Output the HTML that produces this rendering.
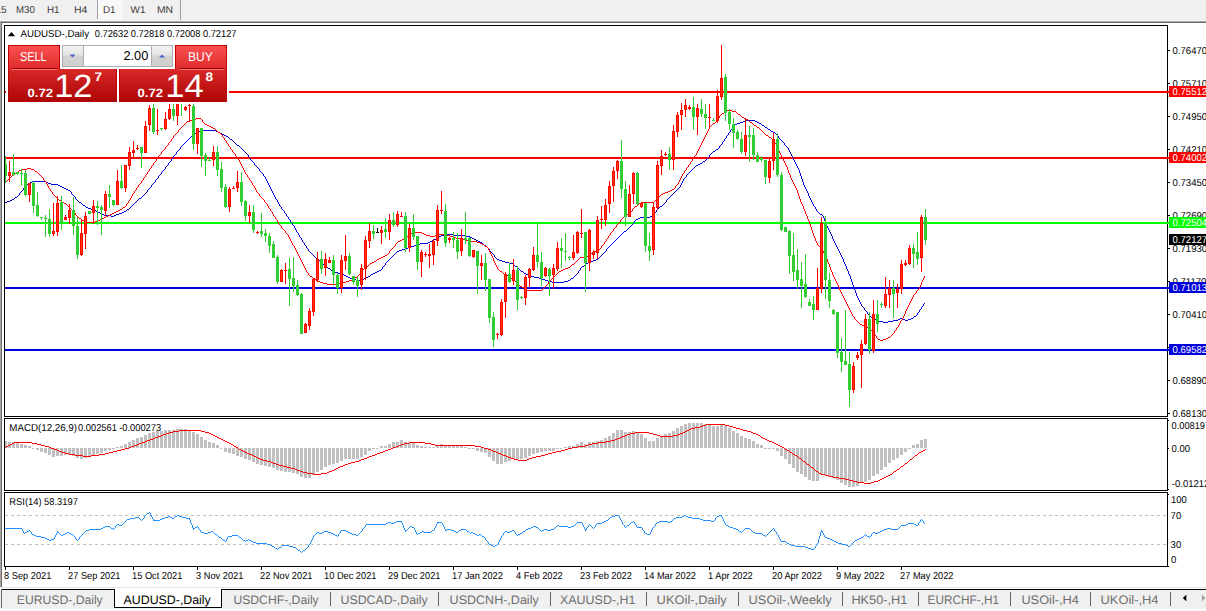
<!DOCTYPE html>
<html lang="en"><head><meta charset="utf-8"><title>AUDUSD-,Daily</title>
<style>html,body{margin:0;padding:0;background:#fff;}body{width:1206px;height:611px;overflow:hidden;}svg{display:block;font-family:'Liberation Sans', Arial, sans-serif;}text{white-space:pre;text-rendering:geometricPrecision;}</style>
</head><body>
<svg width="1206" height="611" viewBox="0 0 1206 611">
<defs>
<linearGradient id="gSellTop" x1="0" y1="0" x2="0" y2="1"><stop offset="0" stop-color="#fb5050"/><stop offset="1" stop-color="#dd2b2b"/></linearGradient>
<linearGradient id="gSellBot" x1="0" y1="0" x2="0" y2="1"><stop offset="0" stop-color="#d92828"/><stop offset="1" stop-color="#ad0606"/></linearGradient>
<linearGradient id="gBtn" x1="0" y1="0" x2="0" y2="1"><stop offset="0" stop-color="#f4f4f4"/><stop offset="0.45" stop-color="#e4e4e4"/><stop offset="0.5" stop-color="#d2d2d2"/><stop offset="1" stop-color="#cfcfcf"/></linearGradient>
<clipPath id="cpMain"><rect x="5" y="26" width="1162" height="390"/></clipPath>
</defs>
<g shape-rendering="crispEdges">
<rect x="0" y="0" width="1206" height="611" fill="#ffffff"/>
<rect x="0" y="0" width="1206" height="20" fill="#f0f0f0"/>
<rect x="0" y="20" width="1206" height="1" fill="#f7f7f7"/>
<rect x="0" y="21" width="1206" height="1" fill="#a6a6a6"/>
<rect x="0" y="22" width="1206" height="1" fill="#6b6b6b"/>
<rect x="0" y="22" width="1" height="566" fill="#a6a6a6"/>
<rect x="1" y="22" width="1" height="566" fill="#6b6b6b"/>
<rect x="98" y="0" width="24" height="19" fill="#f8f8f8"/>
<rect x="97" y="0" width="1" height="19" fill="#a0a0a0"/>
<rect x="180" y="0" width="1" height="20" fill="#a0a0a0"/>
</g>
<text x="-4.6" y="13" font-size="10" fill="#3a3a3a" textLength="11.2" lengthAdjust="spacingAndGlyphs">15</text>
<text x="16.0" y="13" font-size="10" fill="#3a3a3a" textLength="18.8" lengthAdjust="spacingAndGlyphs">M30</text>
<text x="47.0" y="13" font-size="10" fill="#3a3a3a" textLength="12.6" lengthAdjust="spacingAndGlyphs">H1</text>
<text x="73.9" y="13" font-size="10" fill="#3a3a3a" textLength="13.4" lengthAdjust="spacingAndGlyphs">H4</text>
<text x="103.0" y="13" font-size="10" fill="#3a3a3a" textLength="12.6" lengthAdjust="spacingAndGlyphs">D1</text>
<text x="130.6" y="13" font-size="10" fill="#3a3a3a" textLength="14.8" lengthAdjust="spacingAndGlyphs">W1</text>
<text x="156.9" y="13" font-size="10" fill="#3a3a3a" textLength="16.2" lengthAdjust="spacingAndGlyphs">MN</text>
<g shape-rendering="crispEdges">
<rect x="4.5" y="25.5" width="1163" height="391" fill="#fff" stroke="#000" stroke-width="1"/>
<rect x="4.5" y="418.5" width="1163" height="72" fill="#fff" stroke="#000" stroke-width="1"/>
<rect x="4.5" y="492.5" width="1163" height="74" fill="#fff" stroke="#000" stroke-width="1"/>
<g clip-path="url(#cpMain)">
<rect x="5" y="91" width="1162" height="2" fill="#ff0000"/>
<rect x="5" y="157" width="1162" height="2" fill="#ff0000"/>
<rect x="5" y="222" width="1162" height="2" fill="#00ff00"/>
<rect x="5" y="287" width="1162" height="2" fill="#0000dc"/>
<rect x="5" y="349" width="1162" height="2" fill="#0000dc"/>
</g>
<rect x="1167" y="91" width="2" height="2" fill="#ff0000"/>
<rect x="1167" y="157" width="2" height="2" fill="#ff0000"/>
<rect x="1167" y="222" width="2" height="2" fill="#00ff00"/>
<rect x="1167" y="287" width="2" height="2" fill="#0000dc"/>
<rect x="1167" y="349" width="2" height="2" fill="#0000dc"/>
</g>
<path d="M19,193h1v2h-1zM23,188h1v2h-1zM71,192h1v2h-1zM75,197h1v2h-1zM147,190h1v2h-1zM151,185h1v2h-1zM155,180h1v2h-1zM158,176h1v2h-1zM161,172h1v2h-1zM165,167h1v2h-1zM168,163h1v2h-1zM171,159h1v2h-1zM173,156h1v2h-1zM176,152h1v2h-1zM180,147h1v2h-1zM248,155h1v2h-1zM250,158h1v2h-1zM254,163h1v2h-1zM259,169h1v2h-1zM263,174h1v2h-1zM265,177h1v2h-1zM266,179h1v2h-1zM267,181h1v2h-1zM268,183h1v2h-1zM269,185h1v2h-1zM270,187h1v2h-1zM271,189h1v2h-1zM272,191h1v2h-1zM273,193h1v2h-1zM274,195h1v2h-1zM275,197h1v2h-1zM277,200h1v2h-1zM278,202h1v2h-1zM279,204h1v2h-1zM281,207h1v2h-1zM284,211h1v2h-1zM286,214h1v2h-1zM288,217h1v2h-1zM290,220h1v2h-1zM292,223h1v2h-1zM294,226h1v2h-1zM295,228h1v2h-1zM296,230h1v2h-1zM298,233h1v2h-1zM299,235h1v2h-1zM301,238h1v2h-1zM302,240h1v2h-1zM304,243h1v2h-1zM306,246h1v2h-1zM308,249h1v2h-1zM382,267h1v2h-1zM385,263h1v2h-1zM489,249h1v2h-1zM494,255h1v2h-1zM578,271h1v2h-1zM580,268h1v2h-1zM606,249h1v2h-1zM634,221h1v2h-1zM653,214h1v2h-1zM656,210h1v2h-1zM666,200h1v2h-1zM680,185h1v2h-1zM681,183h1v2h-1zM682,181h1v2h-1zM683,179h1v2h-1zM686,175h1v2h-1zM709,155h1v2h-1zM719,146h1v2h-1zM722,142h1v2h-1zM724,139h1v2h-1zM726,136h1v2h-1zM728,133h1v2h-1zM730,130h1v2h-1zM733,126h1v2h-1zM778,136h1v2h-1zM784,143h1v2h-1zM788,148h1v2h-1zM789,150h1v2h-1zM790,152h1v2h-1zM791,154h1v2h-1zM792,156h1v2h-1zM793,158h1v2h-1zM794,160h1v2h-1zM795,162h1v2h-1zM796,164h1v2h-1zM797,166h1v2h-1zM798,168h1v2h-1zM799,170h1v3h-1zM800,173h1v3h-1zM801,176h1v3h-1zM802,179h1v3h-1zM803,182h1v3h-1zM804,185h1v2h-1zM805,187h1v2h-1zM806,189h1v2h-1zM807,191h1v2h-1zM808,193h1v3h-1zM809,196h1v2h-1zM810,198h1v2h-1zM811,200h1v2h-1zM812,202h1v2h-1zM813,204h1v2h-1zM815,207h1v2h-1zM816,209h1v2h-1zM823,216h1v2h-1zM824,218h1v3h-1zM825,221h1v2h-1zM826,223h1v3h-1zM827,226h1v2h-1zM828,228h1v2h-1zM829,230h1v2h-1zM830,232h1v2h-1zM831,234h1v2h-1zM832,236h1v3h-1zM833,239h1v2h-1zM834,241h1v2h-1zM835,243h1v2h-1zM836,245h1v2h-1zM837,247h1v2h-1zM838,249h1v2h-1zM839,251h1v2h-1zM840,253h1v2h-1zM841,255h1v2h-1zM842,257h1v2h-1zM843,259h1v3h-1zM844,262h1v2h-1zM845,264h1v2h-1zM846,266h1v3h-1zM847,269h1v2h-1zM848,271h1v3h-1zM849,274h1v2h-1zM850,276h1v3h-1zM851,279h1v3h-1zM852,282h1v3h-1zM853,285h1v3h-1zM854,288h1v2h-1zM855,290h1v3h-1zM856,293h1v3h-1zM857,296h1v2h-1zM858,298h1v2h-1zM859,300h1v2h-1zM860,302h1v2h-1zM861,304h1v2h-1zM864,308h1v2h-1zM867,312h1v2h-1zM917,313h1v2h-1zM919,310h1v2h-1zM921,307h1v2h-1zM923,304h1v2h-1zM746,120h9v1h-9zM743,121h3v1h-3zM755,121h2v1h-2zM740,122h3v1h-3zM757,122h2v1h-2zM737,123h3v1h-3zM759,123h2v1h-2zM735,124h2v1h-2zM761,124h1v1h-1zM734,125h1v1h-1zM762,125h2v1h-2zM764,126h1v1h-1zM765,127h2v1h-2zM732,128h1v1h-1zM767,128h1v1h-1zM731,129h1v1h-1zM768,129h2v1h-2zM200,130h16v1h-16zM770,130h1v1h-1zM198,131h2v1h-2zM216,131h2v1h-2zM771,131h2v1h-2zM196,132h2v1h-2zM218,132h2v1h-2zM729,132h1v1h-1zM773,132h2v1h-2zM195,133h1v1h-1zM220,133h2v1h-2zM775,133h1v1h-1zM194,134h1v1h-1zM222,134h2v1h-2zM776,134h1v1h-1zM192,135h2v1h-2zM224,135h2v1h-2zM727,135h1v1h-1zM777,135h1v1h-1zM191,136h1v1h-1zM226,136h2v1h-2zM190,137h1v1h-1zM228,137h1v1h-1zM189,138h1v1h-1zM229,138h1v1h-1zM725,138h1v1h-1zM779,138h1v1h-1zM188,139h1v1h-1zM230,139h2v1h-2zM780,139h1v1h-1zM187,140h1v1h-1zM232,140h1v1h-1zM781,140h1v1h-1zM186,141h1v1h-1zM233,141h1v1h-1zM723,141h1v1h-1zM782,141h1v1h-1zM185,142h1v1h-1zM234,142h1v1h-1zM783,142h1v1h-1zM184,143h1v1h-1zM235,143h1v1h-1zM183,144h1v1h-1zM236,144h1v1h-1zM721,144h1v1h-1zM182,145h1v1h-1zM237,145h2v1h-2zM720,145h1v1h-1zM785,145h1v1h-1zM181,146h1v1h-1zM239,146h1v1h-1zM786,146h1v1h-1zM240,147h1v1h-1zM787,147h1v1h-1zM241,148h1v1h-1zM718,148h1v1h-1zM179,149h1v1h-1zM242,149h1v1h-1zM716,149h2v1h-2zM178,150h1v1h-1zM243,150h1v1h-1zM715,150h1v1h-1zM177,151h1v1h-1zM244,151h1v1h-1zM713,151h2v1h-2zM245,152h1v1h-1zM712,152h1v1h-1zM246,153h1v1h-1zM711,153h1v1h-1zM175,154h1v1h-1zM247,154h1v1h-1zM710,154h1v1h-1zM174,155h1v1h-1zM249,157h1v1h-1zM708,157h1v1h-1zM172,158h1v1h-1zM707,158h1v1h-1zM706,159h1v1h-1zM251,160h1v1h-1zM705,160h1v1h-1zM170,161h1v1h-1zM252,161h1v1h-1zM703,161h2v1h-2zM169,162h1v1h-1zM253,162h1v1h-1zM702,162h1v1h-1zM700,163h2v1h-2zM698,164h2v1h-2zM167,165h1v1h-1zM255,165h1v1h-1zM696,165h2v1h-2zM166,166h1v1h-1zM256,166h1v1h-1zM695,166h1v1h-1zM257,167h1v1h-1zM694,167h1v1h-1zM258,168h1v1h-1zM693,168h1v1h-1zM164,169h1v1h-1zM692,169h1v1h-1zM163,170h1v1h-1zM691,170h1v1h-1zM162,171h1v1h-1zM260,171h1v1h-1zM690,171h1v1h-1zM261,172h1v1h-1zM689,172h1v1h-1zM262,173h1v1h-1zM688,173h1v1h-1zM160,174h1v1h-1zM687,174h1v1h-1zM159,175h1v1h-1zM264,176h1v1h-1zM685,177h1v1h-1zM157,178h1v1h-1zM684,178h1v1h-1zM156,179h1v1h-1zM32,181h14v1h-14zM30,182h2v1h-2zM46,182h2v1h-2zM154,182h1v1h-1zM29,183h1v1h-1zM48,183h3v1h-3zM153,183h1v1h-1zM27,184h2v1h-2zM51,184h7v1h-7zM152,184h1v1h-1zM26,185h1v1h-1zM58,185h2v1h-2zM25,186h1v1h-1zM60,186h2v1h-2zM24,187h1v1h-1zM62,187h2v1h-2zM150,187h1v1h-1zM679,187h1v1h-1zM64,188h2v1h-2zM149,188h1v1h-1zM678,188h1v1h-1zM66,189h2v1h-2zM148,189h1v1h-1zM677,189h1v1h-1zM22,190h1v1h-1zM68,190h2v1h-2zM676,190h1v1h-1zM21,191h1v1h-1zM70,191h1v1h-1zM675,191h1v1h-1zM20,192h1v1h-1zM146,192h1v1h-1zM674,192h1v1h-1zM145,193h1v1h-1zM673,193h1v1h-1zM72,194h1v1h-1zM144,194h1v1h-1zM672,194h1v1h-1zM18,195h1v1h-1zM73,195h1v1h-1zM143,195h1v1h-1zM671,195h1v1h-1zM17,196h1v1h-1zM74,196h1v1h-1zM142,196h1v1h-1zM670,196h1v1h-1zM15,197h2v1h-2zM141,197h1v1h-1zM669,197h1v1h-1zM14,198h1v1h-1zM139,198h2v1h-2zM668,198h1v1h-1zM12,199h2v1h-2zM76,199h1v1h-1zM138,199h1v1h-1zM276,199h1v1h-1zM667,199h1v1h-1zM10,200h2v1h-2zM77,200h1v1h-1zM137,200h1v1h-1zM7,201h3v1h-3zM78,201h1v1h-1zM136,201h1v1h-1zM5,202h2v1h-2zM79,202h2v1h-2zM135,202h1v1h-1zM665,202h1v1h-1zM81,203h1v1h-1zM134,203h1v1h-1zM664,203h1v1h-1zM82,204h1v1h-1zM133,204h1v1h-1zM663,204h1v1h-1zM83,205h2v1h-2zM132,205h1v1h-1zM662,205h1v1h-1zM85,206h1v1h-1zM131,206h1v1h-1zM280,206h1v1h-1zM660,206h2v1h-2zM814,206h1v1h-1zM86,207h2v1h-2zM130,207h1v1h-1zM659,207h1v1h-1zM88,208h3v1h-3zM129,208h1v1h-1zM658,208h1v1h-1zM91,209h3v1h-3zM127,209h2v1h-2zM282,209h1v1h-1zM657,209h1v1h-1zM94,210h2v1h-2zM126,210h1v1h-1zM283,210h1v1h-1zM96,211h2v1h-2zM124,211h2v1h-2zM817,211h1v1h-1zM98,212h2v1h-2zM122,212h2v1h-2zM655,212h1v1h-1zM818,212h1v1h-1zM100,213h2v1h-2zM119,213h3v1h-3zM285,213h1v1h-1zM654,213h1v1h-1zM819,213h1v1h-1zM102,214h2v1h-2zM116,214h3v1h-3zM820,214h2v1h-2zM104,215h7v1h-7zM114,215h2v1h-2zM822,215h1v1h-1zM111,216h3v1h-3zM287,216h1v1h-1zM650,216h3v1h-3zM640,217h10v1h-10zM638,218h2v1h-2zM289,219h1v1h-1zM636,219h2v1h-2zM635,220h1v1h-1zM291,222h1v1h-1zM633,223h1v1h-1zM632,224h1v1h-1zM293,225h1v1h-1zM631,225h1v1h-1zM630,226h1v1h-1zM629,227h1v1h-1zM628,228h1v1h-1zM627,229h1v1h-1zM626,230h1v1h-1zM624,231h2v1h-2zM297,232h1v1h-1zM623,232h1v1h-1zM622,233h1v1h-1zM444,234h10v1h-10zM621,234h1v1h-1zM441,235h3v1h-3zM454,235h12v1h-12zM620,235h1v1h-1zM439,236h2v1h-2zM466,236h4v1h-4zM619,236h1v1h-1zM300,237h1v1h-1zM437,237h2v1h-2zM470,237h2v1h-2zM618,237h1v1h-1zM436,238h1v1h-1zM472,238h2v1h-2zM617,238h1v1h-1zM434,239h2v1h-2zM474,239h2v1h-2zM616,239h1v1h-1zM432,240h2v1h-2zM476,240h2v1h-2zM615,240h1v1h-1zM430,241h2v1h-2zM478,241h2v1h-2zM614,241h1v1h-1zM303,242h1v1h-1zM428,242h2v1h-2zM480,242h2v1h-2zM613,242h1v1h-1zM420,243h8v1h-8zM482,243h1v1h-1zM612,243h1v1h-1zM417,244h3v1h-3zM483,244h1v1h-1zM611,244h1v1h-1zM305,245h1v1h-1zM414,245h3v1h-3zM484,245h2v1h-2zM610,245h1v1h-1zM411,246h3v1h-3zM486,246h1v1h-1zM609,246h1v1h-1zM408,247h3v1h-3zM487,247h1v1h-1zM608,247h1v1h-1zM307,248h1v1h-1zM405,248h3v1h-3zM488,248h1v1h-1zM607,248h1v1h-1zM402,249h3v1h-3zM399,250h3v1h-3zM309,251h1v1h-1zM397,251h2v1h-2zM490,251h1v1h-1zM605,251h1v1h-1zM310,252h1v1h-1zM396,252h1v1h-1zM491,252h1v1h-1zM604,252h1v1h-1zM311,253h1v1h-1zM395,253h1v1h-1zM492,253h1v1h-1zM603,253h1v1h-1zM312,254h1v1h-1zM394,254h1v1h-1zM493,254h1v1h-1zM602,254h1v1h-1zM313,255h1v1h-1zM393,255h1v1h-1zM601,255h1v1h-1zM314,256h1v1h-1zM392,256h1v1h-1zM600,256h1v1h-1zM315,257h1v1h-1zM391,257h1v1h-1zM495,257h1v1h-1zM599,257h1v1h-1zM316,258h1v1h-1zM390,258h1v1h-1zM496,258h1v1h-1zM598,258h1v1h-1zM317,259h1v1h-1zM389,259h1v1h-1zM497,259h2v1h-2zM596,259h2v1h-2zM318,260h2v1h-2zM388,260h1v1h-1zM499,260h3v1h-3zM593,260h3v1h-3zM320,261h1v1h-1zM387,261h1v1h-1zM502,261h3v1h-3zM590,261h3v1h-3zM321,262h1v1h-1zM386,262h1v1h-1zM505,262h4v1h-4zM588,262h2v1h-2zM322,263h1v1h-1zM509,263h4v1h-4zM586,263h2v1h-2zM323,264h1v1h-1zM513,264h1v1h-1zM585,264h1v1h-1zM324,265h2v1h-2zM384,265h1v1h-1zM514,265h1v1h-1zM584,265h1v1h-1zM326,266h1v1h-1zM383,266h1v1h-1zM515,266h2v1h-2zM582,266h2v1h-2zM327,267h1v1h-1zM517,267h1v1h-1zM581,267h1v1h-1zM328,268h2v1h-2zM518,268h1v1h-1zM330,269h1v1h-1zM381,269h1v1h-1zM519,269h1v1h-1zM331,270h2v1h-2zM379,270h2v1h-2zM520,270h1v1h-1zM579,270h1v1h-1zM333,271h2v1h-2zM377,271h2v1h-2zM521,271h2v1h-2zM335,272h3v1h-3zM375,272h2v1h-2zM523,272h1v1h-1zM338,273h3v1h-3zM373,273h2v1h-2zM524,273h2v1h-2zM577,273h1v1h-1zM341,274h3v1h-3zM371,274h2v1h-2zM526,274h2v1h-2zM576,274h1v1h-1zM344,275h2v1h-2zM370,275h1v1h-1zM528,275h2v1h-2zM575,275h1v1h-1zM346,276h2v1h-2zM368,276h2v1h-2zM530,276h4v1h-4zM574,276h1v1h-1zM348,277h2v1h-2zM366,277h2v1h-2zM534,277h5v1h-5zM573,277h1v1h-1zM350,278h3v1h-3zM364,278h2v1h-2zM539,278h3v1h-3zM571,278h2v1h-2zM353,279h3v1h-3zM362,279h2v1h-2zM542,279h3v1h-3zM570,279h1v1h-1zM356,280h6v1h-6zM545,280h3v1h-3zM568,280h2v1h-2zM548,281h4v1h-4zM564,281h4v1h-4zM552,282h12v1h-12zM924,303h1v1h-1zM862,306h1v1h-1zM922,306h1v1h-1zM863,307h1v1h-1zM920,309h1v1h-1zM865,310h1v1h-1zM866,311h1v1h-1zM918,312h1v1h-1zM868,314h1v1h-1zM869,315h1v1h-1zM916,315h1v1h-1zM870,316h1v1h-1zM914,316h2v1h-2zM871,317h2v1h-2zM913,317h1v1h-1zM873,318h1v1h-1zM900,318h3v1h-3zM911,318h2v1h-2zM874,319h2v1h-2zM898,319h2v1h-2zM903,319h2v1h-2zM908,319h3v1h-3zM876,320h3v1h-3zM893,320h5v1h-5zM905,320h3v1h-3zM879,321h4v1h-4zM888,321h5v1h-5zM883,322h5v1h-5z" fill="#0000d8" shape-rendering="crispEdges"/>
<path d="M43,178h1v2h-1zM46,182h1v2h-1zM47,184h1v2h-1zM48,186h1v2h-1zM50,189h1v2h-1zM52,192h1v2h-1zM75,213h1v2h-1zM126,204h1v2h-1zM128,201h1v2h-1zM130,198h1v2h-1zM131,196h1v2h-1zM132,194h1v2h-1zM134,191h1v2h-1zM136,188h1v2h-1zM138,185h1v2h-1zM141,181h1v2h-1zM143,178h1v2h-1zM145,175h1v2h-1zM147,172h1v2h-1zM149,169h1v2h-1zM151,166h1v2h-1zM153,163h1v2h-1zM156,159h1v2h-1zM158,156h1v2h-1zM161,152h1v2h-1zM165,147h1v2h-1zM168,143h1v2h-1zM171,139h1v2h-1zM173,136h1v2h-1zM178,130h1v2h-1zM202,120h1v2h-1zM222,135h1v2h-1zM224,138h1v2h-1zM226,141h1v2h-1zM228,144h1v2h-1zM230,147h1v2h-1zM232,150h1v2h-1zM235,154h1v2h-1zM238,158h1v2h-1zM239,160h1v2h-1zM240,162h1v2h-1zM241,164h1v2h-1zM242,166h1v2h-1zM243,168h1v2h-1zM244,170h1v2h-1zM245,172h1v2h-1zM247,175h1v2h-1zM249,178h1v2h-1zM251,181h1v2h-1zM252,183h1v2h-1zM254,186h1v2h-1zM255,188h1v2h-1zM256,190h1v2h-1zM259,194h1v2h-1zM264,200h1v2h-1zM267,204h1v2h-1zM268,206h1v2h-1zM270,209h1v2h-1zM272,212h1v2h-1zM273,214h1v2h-1zM275,217h1v2h-1zM277,220h1v2h-1zM278,222h1v2h-1zM281,226h1v2h-1zM285,231h1v2h-1zM288,235h1v2h-1zM289,237h1v2h-1zM290,239h1v2h-1zM291,241h1v2h-1zM292,243h1v2h-1zM294,246h1v2h-1zM295,248h1v2h-1zM296,250h1v2h-1zM297,252h1v2h-1zM298,254h1v2h-1zM299,256h1v2h-1zM300,258h1v2h-1zM301,260h1v2h-1zM302,262h1v2h-1zM303,264h1v2h-1zM304,266h1v2h-1zM305,268h1v2h-1zM306,270h1v2h-1zM308,273h1v2h-1zM360,272h1v2h-1zM389,251h1v2h-1zM395,244h1v2h-1zM488,248h1v2h-1zM489,250h1v2h-1zM490,252h1v2h-1zM491,254h1v2h-1zM492,256h1v2h-1zM493,258h1v3h-1zM494,261h1v2h-1zM495,263h1v2h-1zM496,265h1v2h-1zM497,267h1v2h-1zM548,282h1v2h-1zM601,246h1v2h-1zM604,242h1v2h-1zM606,239h1v2h-1zM608,236h1v2h-1zM610,233h1v2h-1zM613,229h1v2h-1zM616,225h1v2h-1zM620,220h1v2h-1zM632,209h1v2h-1zM675,186h1v2h-1zM678,182h1v2h-1zM679,180h1v2h-1zM680,178h1v2h-1zM681,176h1v2h-1zM682,174h1v2h-1zM684,171h1v2h-1zM686,168h1v2h-1zM688,165h1v2h-1zM690,162h1v2h-1zM692,159h1v2h-1zM694,156h1v2h-1zM696,153h1v2h-1zM697,151h1v2h-1zM698,149h1v2h-1zM699,147h1v2h-1zM700,145h1v2h-1zM701,143h1v2h-1zM702,141h1v2h-1zM703,139h1v2h-1zM704,137h1v2h-1zM705,135h1v2h-1zM706,133h1v2h-1zM707,131h1v2h-1zM708,129h1v2h-1zM709,127h1v2h-1zM717,119h1v2h-1zM719,116h1v2h-1zM774,141h1v2h-1zM776,144h1v2h-1zM777,146h1v3h-1zM778,149h1v2h-1zM779,151h1v2h-1zM780,153h1v2h-1zM781,155h1v2h-1zM782,157h1v2h-1zM783,159h1v2h-1zM784,161h1v2h-1zM785,163h1v2h-1zM786,165h1v2h-1zM787,167h1v3h-1zM788,170h1v3h-1zM789,173h1v2h-1zM790,175h1v3h-1zM791,178h1v2h-1zM792,180h1v2h-1zM793,182h1v2h-1zM794,184h1v2h-1zM795,186h1v2h-1zM796,188h1v2h-1zM797,190h1v3h-1zM798,193h1v3h-1zM799,196h1v3h-1zM800,199h1v3h-1zM801,202h1v2h-1zM802,204h1v2h-1zM803,206h1v3h-1zM804,209h1v2h-1zM805,211h1v3h-1zM806,214h1v2h-1zM807,216h1v3h-1zM808,219h1v2h-1zM809,221h1v3h-1zM810,224h1v3h-1zM811,227h1v3h-1zM812,230h1v3h-1zM813,233h1v3h-1zM814,236h1v2h-1zM815,238h1v3h-1zM816,241h1v2h-1zM817,243h1v2h-1zM821,247h1v2h-1zM822,249h1v2h-1zM823,251h1v2h-1zM824,253h1v2h-1zM825,255h1v2h-1zM826,257h1v2h-1zM827,259h1v3h-1zM828,262h1v2h-1zM829,264h1v3h-1zM830,267h1v3h-1zM831,270h1v2h-1zM832,272h1v3h-1zM833,275h1v2h-1zM834,277h1v2h-1zM835,279h1v2h-1zM836,281h1v2h-1zM837,283h1v2h-1zM838,285h1v2h-1zM839,287h1v3h-1zM840,290h1v2h-1zM841,292h1v2h-1zM842,294h1v2h-1zM843,296h1v2h-1zM844,298h1v2h-1zM845,300h1v2h-1zM846,302h1v2h-1zM847,304h1v2h-1zM848,306h1v2h-1zM849,308h1v2h-1zM850,310h1v2h-1zM851,312h1v2h-1zM852,314h1v2h-1zM854,317h1v2h-1zM873,332h1v2h-1zM876,336h1v2h-1zM894,331h1v2h-1zM896,328h1v2h-1zM898,325h1v2h-1zM899,323h1v2h-1zM900,321h1v2h-1zM902,318h1v2h-1zM903,316h1v2h-1zM904,314h1v2h-1zM905,311h1v3h-1zM906,309h1v2h-1zM907,307h1v2h-1zM908,305h1v2h-1zM909,303h1v2h-1zM910,301h1v2h-1zM911,299h1v2h-1zM912,297h1v2h-1zM913,295h1v2h-1zM916,291h1v2h-1zM919,287h1v2h-1zM920,285h1v2h-1zM921,282h1v3h-1zM922,280h1v2h-1zM923,278h1v2h-1zM924,276h1v2h-1zM727,110h5v1h-5zM725,111h2v1h-2zM732,111h4v1h-4zM724,112h1v1h-1zM736,112h1v1h-1zM722,113h2v1h-2zM737,113h1v1h-1zM721,114h1v1h-1zM738,114h2v1h-2zM720,115h1v1h-1zM740,115h1v1h-1zM741,116h1v1h-1zM742,117h2v1h-2zM196,118h5v1h-5zM718,118h1v1h-1zM744,118h2v1h-2zM194,119h2v1h-2zM201,119h1v1h-1zM746,119h2v1h-2zM190,120h4v1h-4zM748,120h1v1h-1zM187,121h3v1h-3zM716,121h1v1h-1zM749,121h1v1h-1zM186,122h1v1h-1zM203,122h1v1h-1zM715,122h1v1h-1zM750,122h2v1h-2zM185,123h1v1h-1zM204,123h1v1h-1zM713,123h2v1h-2zM752,123h1v1h-1zM184,124h1v1h-1zM205,124h2v1h-2zM712,124h1v1h-1zM753,124h1v1h-1zM183,125h1v1h-1zM207,125h2v1h-2zM711,125h1v1h-1zM754,125h2v1h-2zM182,126h1v1h-1zM209,126h2v1h-2zM710,126h1v1h-1zM756,126h1v1h-1zM181,127h1v1h-1zM211,127h2v1h-2zM757,127h2v1h-2zM180,128h1v1h-1zM213,128h2v1h-2zM759,128h1v1h-1zM179,129h1v1h-1zM215,129h1v1h-1zM760,129h1v1h-1zM216,130h1v1h-1zM761,130h1v1h-1zM217,131h1v1h-1zM762,131h1v1h-1zM177,132h1v1h-1zM218,132h2v1h-2zM763,132h1v1h-1zM176,133h1v1h-1zM220,133h1v1h-1zM764,133h1v1h-1zM175,134h1v1h-1zM221,134h1v1h-1zM765,134h1v1h-1zM174,135h1v1h-1zM766,135h2v1h-2zM768,136h1v1h-1zM223,137h1v1h-1zM769,137h2v1h-2zM172,138h1v1h-1zM771,138h1v1h-1zM772,139h1v1h-1zM225,140h1v1h-1zM773,140h1v1h-1zM170,141h1v1h-1zM169,142h1v1h-1zM227,143h1v1h-1zM775,143h1v1h-1zM167,145h1v1h-1zM166,146h1v1h-1zM229,146h1v1h-1zM164,149h1v1h-1zM231,149h1v1h-1zM163,150h1v1h-1zM162,151h1v1h-1zM233,152h1v1h-1zM234,153h1v1h-1zM160,154h1v1h-1zM159,155h1v1h-1zM695,155h1v1h-1zM236,156h1v1h-1zM237,157h1v1h-1zM157,158h1v1h-1zM693,158h1v1h-1zM155,161h1v1h-1zM691,161h1v1h-1zM154,162h1v1h-1zM689,164h1v1h-1zM152,165h1v1h-1zM687,167h1v1h-1zM27,168h4v1h-4zM150,168h1v1h-1zM21,169h6v1h-6zM31,169h3v1h-3zM19,170h2v1h-2zM34,170h1v1h-1zM685,170h1v1h-1zM18,171h1v1h-1zM35,171h2v1h-2zM148,171h1v1h-1zM16,172h2v1h-2zM37,172h1v1h-1zM14,173h2v1h-2zM38,173h1v1h-1zM683,173h1v1h-1zM13,174h1v1h-1zM39,174h1v1h-1zM146,174h1v1h-1zM246,174h1v1h-1zM12,175h1v1h-1zM40,175h1v1h-1zM11,176h1v1h-1zM41,176h1v1h-1zM10,177h1v1h-1zM42,177h1v1h-1zM144,177h1v1h-1zM248,177h1v1h-1zM9,178h1v1h-1zM8,179h1v1h-1zM7,180h1v1h-1zM44,180h1v1h-1zM142,180h1v1h-1zM250,180h1v1h-1zM6,181h1v1h-1zM45,181h1v1h-1zM5,182h1v1h-1zM140,183h1v1h-1zM139,184h1v1h-1zM677,184h1v1h-1zM253,185h1v1h-1zM676,185h1v1h-1zM137,187h1v1h-1zM49,188h1v1h-1zM674,188h1v1h-1zM672,189h2v1h-2zM135,190h1v1h-1zM670,190h2v1h-2zM51,191h1v1h-1zM668,191h2v1h-2zM257,192h1v1h-1zM665,192h3v1h-3zM133,193h1v1h-1zM258,193h1v1h-1zM663,193h2v1h-2zM53,194h1v1h-1zM661,194h2v1h-2zM54,195h1v1h-1zM660,195h1v1h-1zM55,196h1v1h-1zM260,196h1v1h-1zM659,196h1v1h-1zM56,197h1v1h-1zM261,197h1v1h-1zM658,197h1v1h-1zM57,198h1v1h-1zM262,198h1v1h-1zM657,198h1v1h-1zM58,199h1v1h-1zM263,199h1v1h-1zM656,199h1v1h-1zM59,200h2v1h-2zM129,200h1v1h-1zM655,200h1v1h-1zM61,201h1v1h-1zM654,201h1v1h-1zM62,202h2v1h-2zM265,202h1v1h-1zM641,202h13v1h-13zM64,203h2v1h-2zM127,203h1v1h-1zM266,203h1v1h-1zM639,203h2v1h-2zM66,204h1v1h-1zM638,204h1v1h-1zM67,205h1v1h-1zM637,205h1v1h-1zM68,206h1v1h-1zM125,206h1v1h-1zM635,206h2v1h-2zM69,207h1v1h-1zM123,207h2v1h-2zM634,207h1v1h-1zM70,208h1v1h-1zM122,208h1v1h-1zM269,208h1v1h-1zM633,208h1v1h-1zM71,209h1v1h-1zM120,209h2v1h-2zM72,210h1v1h-1zM118,210h2v1h-2zM73,211h1v1h-1zM116,211h2v1h-2zM271,211h1v1h-1zM631,211h1v1h-1zM74,212h1v1h-1zM114,212h2v1h-2zM630,212h1v1h-1zM112,213h2v1h-2zM629,213h1v1h-1zM110,214h2v1h-2zM627,214h2v1h-2zM76,215h1v1h-1zM108,215h2v1h-2zM626,215h1v1h-1zM77,216h1v1h-1zM106,216h2v1h-2zM274,216h1v1h-1zM624,216h2v1h-2zM78,217h1v1h-1zM104,217h2v1h-2zM623,217h1v1h-1zM79,218h2v1h-2zM102,218h2v1h-2zM622,218h1v1h-1zM81,219h1v1h-1zM100,219h2v1h-2zM276,219h1v1h-1zM621,219h1v1h-1zM82,220h2v1h-2zM98,220h2v1h-2zM84,221h3v1h-3zM95,221h3v1h-3zM87,222h8v1h-8zM619,222h1v1h-1zM618,223h1v1h-1zM279,224h1v1h-1zM617,224h1v1h-1zM280,225h1v1h-1zM615,227h1v1h-1zM282,228h1v1h-1zM614,228h1v1h-1zM283,229h1v1h-1zM284,230h1v1h-1zM612,231h1v1h-1zM414,232h8v1h-8zM611,232h1v1h-1zM286,233h1v1h-1zM411,233h3v1h-3zM422,233h2v1h-2zM287,234h1v1h-1zM409,234h2v1h-2zM424,234h2v1h-2zM438,234h9v1h-9zM408,235h1v1h-1zM426,235h4v1h-4zM435,235h3v1h-3zM447,235h3v1h-3zM609,235h1v1h-1zM406,236h2v1h-2zM430,236h5v1h-5zM450,236h3v1h-3zM405,237h1v1h-1zM453,237h3v1h-3zM404,238h1v1h-1zM456,238h4v1h-4zM607,238h1v1h-1zM402,239h2v1h-2zM460,239h5v1h-5zM400,240h2v1h-2zM465,240h3v1h-3zM398,241h2v1h-2zM468,241h9v1h-9zM605,241h1v1h-1zM397,242h1v1h-1zM477,242h3v1h-3zM396,243h1v1h-1zM480,243h2v1h-2zM482,244h2v1h-2zM603,244h1v1h-1zM293,245h1v1h-1zM484,245h1v1h-1zM602,245h1v1h-1zM818,245h1v1h-1zM394,246h1v1h-1zM485,246h2v1h-2zM819,246h2v1h-2zM393,247h1v1h-1zM487,247h1v1h-1zM392,248h1v1h-1zM600,248h1v1h-1zM391,249h1v1h-1zM598,249h2v1h-2zM390,250h1v1h-1zM596,250h2v1h-2zM594,251h2v1h-2zM593,252h1v1h-1zM388,253h1v1h-1zM591,253h2v1h-2zM387,254h1v1h-1zM590,254h1v1h-1zM385,255h2v1h-2zM588,255h2v1h-2zM383,256h2v1h-2zM584,256h4v1h-4zM381,257h2v1h-2zM580,257h4v1h-4zM379,258h2v1h-2zM579,258h1v1h-1zM377,259h2v1h-2zM578,259h1v1h-1zM376,260h1v1h-1zM577,260h1v1h-1zM374,261h2v1h-2zM576,261h1v1h-1zM372,262h2v1h-2zM575,262h1v1h-1zM370,263h2v1h-2zM574,263h1v1h-1zM369,264h1v1h-1zM572,264h2v1h-2zM368,265h1v1h-1zM571,265h1v1h-1zM366,266h2v1h-2zM570,266h1v1h-1zM365,267h1v1h-1zM568,267h2v1h-2zM364,268h1v1h-1zM565,268h3v1h-3zM363,269h1v1h-1zM498,269h1v1h-1zM563,269h2v1h-2zM362,270h1v1h-1zM499,270h1v1h-1zM561,270h2v1h-2zM361,271h1v1h-1zM500,271h2v1h-2zM559,271h2v1h-2zM307,272h1v1h-1zM502,272h1v1h-1zM558,272h1v1h-1zM503,273h1v1h-1zM557,273h1v1h-1zM359,274h1v1h-1zM504,274h2v1h-2zM556,274h1v1h-1zM309,275h1v1h-1zM358,275h1v1h-1zM506,275h2v1h-2zM555,275h1v1h-1zM310,276h2v1h-2zM357,276h1v1h-1zM508,276h2v1h-2zM554,276h1v1h-1zM312,277h1v1h-1zM355,277h2v1h-2zM510,277h1v1h-1zM553,277h1v1h-1zM313,278h2v1h-2zM354,278h1v1h-1zM511,278h1v1h-1zM552,278h1v1h-1zM315,279h1v1h-1zM352,279h2v1h-2zM512,279h2v1h-2zM551,279h1v1h-1zM316,280h2v1h-2zM349,280h3v1h-3zM514,280h1v1h-1zM550,280h1v1h-1zM318,281h2v1h-2zM346,281h3v1h-3zM515,281h1v1h-1zM549,281h1v1h-1zM320,282h3v1h-3zM343,282h3v1h-3zM516,282h1v1h-1zM323,283h4v1h-4zM338,283h5v1h-5zM517,283h1v1h-1zM327,284h11v1h-11zM518,284h1v1h-1zM547,284h1v1h-1zM519,285h1v1h-1zM546,285h1v1h-1zM520,286h2v1h-2zM545,286h1v1h-1zM522,287h2v1h-2zM544,287h1v1h-1zM524,288h1v1h-1zM543,288h1v1h-1zM525,289h2v1h-2zM542,289h1v1h-1zM918,289h1v1h-1zM527,290h15v1h-15zM917,290h1v1h-1zM915,293h1v1h-1zM914,294h1v1h-1zM853,316h1v1h-1zM855,319h1v1h-1zM856,320h1v1h-1zM901,320h1v1h-1zM857,321h1v1h-1zM858,322h1v1h-1zM859,323h1v1h-1zM860,324h2v1h-2zM862,325h3v1h-3zM865,326h2v1h-2zM867,327h1v1h-1zM897,327h1v1h-1zM868,328h2v1h-2zM870,329h1v1h-1zM871,330h1v1h-1zM895,330h1v1h-1zM872,331h1v1h-1zM893,333h1v1h-1zM874,334h1v1h-1zM892,334h1v1h-1zM875,335h1v1h-1zM891,335h1v1h-1zM890,336h1v1h-1zM888,337h2v1h-2zM877,338h1v1h-1zM886,338h2v1h-2zM878,339h2v1h-2zM883,339h3v1h-3zM880,340h3v1h-3z" fill="#ff0000" shape-rendering="crispEdges"/>
<g shape-rendering="crispEdges" clip-path="url(#cpMain)">
<rect x="5" y="156" width="1" height="27" fill="#32cd32"/>
<rect x="4" y="164" width="3" height="12" fill="#32cd32"/>
<rect x="9" y="161" width="1" height="21" fill="#ff0000"/>
<rect x="8" y="172" width="3" height="4" fill="#ff0000"/>
<rect x="9" y="173" width="1" height="2" fill="#ff3a00"/>
<rect x="13" y="154" width="1" height="22" fill="#32cd32"/>
<rect x="12" y="172" width="3" height="3" fill="#32cd32"/>
<rect x="17" y="172" width="1" height="3" fill="#32cd32"/>
<rect x="16" y="172" width="3" height="2" fill="#32cd32"/>
<rect x="21" y="169" width="1" height="17" fill="#32cd32"/>
<rect x="20" y="173" width="3" height="1" fill="#32cd32"/>
<rect x="25" y="170" width="1" height="26" fill="#32cd32"/>
<rect x="24" y="173" width="3" height="22" fill="#32cd32"/>
<rect x="29" y="183" width="1" height="19" fill="#ff0000"/>
<rect x="28" y="183" width="3" height="12" fill="#ff0000"/>
<rect x="29" y="184" width="1" height="10" fill="#ff3a00"/>
<rect x="33" y="181" width="1" height="32" fill="#32cd32"/>
<rect x="32" y="183" width="3" height="23" fill="#32cd32"/>
<rect x="37" y="192" width="1" height="25" fill="#32cd32"/>
<rect x="36" y="205" width="3" height="11" fill="#32cd32"/>
<rect x="41" y="217" width="1" height="3" fill="#32cd32"/>
<rect x="40" y="217" width="3" height="1" fill="#32cd32"/>
<rect x="45" y="215" width="1" height="22" fill="#32cd32"/>
<rect x="44" y="218" width="3" height="1" fill="#32cd32"/>
<rect x="49" y="209" width="1" height="28" fill="#32cd32"/>
<rect x="48" y="219" width="3" height="15" fill="#32cd32"/>
<rect x="53" y="203" width="1" height="33" fill="#ff0000"/>
<rect x="52" y="231" width="3" height="3" fill="#ff0000"/>
<rect x="53" y="232" width="1" height="1" fill="#ff3a00"/>
<rect x="57" y="196" width="1" height="40" fill="#ff0000"/>
<rect x="56" y="203" width="3" height="29" fill="#ff0000"/>
<rect x="57" y="204" width="1" height="27" fill="#ff3a00"/>
<rect x="61" y="196" width="1" height="34" fill="#32cd32"/>
<rect x="60" y="202" width="3" height="20" fill="#32cd32"/>
<rect x="65" y="215" width="1" height="5" fill="#ff0000"/>
<rect x="64" y="217" width="3" height="3" fill="#ff0000"/>
<rect x="65" y="218" width="1" height="1" fill="#ff3a00"/>
<rect x="69" y="204" width="1" height="20" fill="#ff0000"/>
<rect x="68" y="210" width="3" height="8" fill="#ff0000"/>
<rect x="69" y="211" width="1" height="6" fill="#ff3a00"/>
<rect x="73" y="197" width="1" height="38" fill="#32cd32"/>
<rect x="72" y="210" width="3" height="16" fill="#32cd32"/>
<rect x="77" y="217" width="1" height="42" fill="#32cd32"/>
<rect x="76" y="226" width="3" height="29" fill="#32cd32"/>
<rect x="81" y="220" width="1" height="36" fill="#ff0000"/>
<rect x="80" y="233" width="3" height="22" fill="#ff0000"/>
<rect x="81" y="234" width="1" height="20" fill="#ff3a00"/>
<rect x="85" y="212" width="1" height="37" fill="#ff0000"/>
<rect x="84" y="216" width="3" height="18" fill="#ff0000"/>
<rect x="85" y="217" width="1" height="16" fill="#ff3a00"/>
<rect x="89" y="211" width="1" height="3" fill="#32cd32"/>
<rect x="88" y="211" width="3" height="3" fill="#32cd32"/>
<rect x="93" y="200" width="1" height="24" fill="#ff0000"/>
<rect x="92" y="206" width="3" height="7" fill="#ff0000"/>
<rect x="93" y="207" width="1" height="5" fill="#ff3a00"/>
<rect x="97" y="201" width="1" height="24" fill="#32cd32"/>
<rect x="96" y="206" width="3" height="2" fill="#32cd32"/>
<rect x="101" y="205" width="1" height="30" fill="#32cd32"/>
<rect x="100" y="207" width="3" height="3" fill="#32cd32"/>
<rect x="105" y="191" width="1" height="25" fill="#ff0000"/>
<rect x="104" y="194" width="3" height="17" fill="#ff0000"/>
<rect x="105" y="195" width="1" height="15" fill="#ff3a00"/>
<rect x="109" y="185" width="1" height="23" fill="#32cd32"/>
<rect x="108" y="194" width="3" height="3" fill="#32cd32"/>
<rect x="113" y="200" width="1" height="6" fill="#32cd32"/>
<rect x="112" y="200" width="3" height="5" fill="#32cd32"/>
<rect x="117" y="170" width="1" height="35" fill="#ff0000"/>
<rect x="116" y="181" width="3" height="24" fill="#ff0000"/>
<rect x="117" y="182" width="1" height="22" fill="#ff3a00"/>
<rect x="121" y="165" width="1" height="24" fill="#32cd32"/>
<rect x="120" y="181" width="3" height="7" fill="#32cd32"/>
<rect x="125" y="165" width="1" height="27" fill="#ff0000"/>
<rect x="124" y="165" width="3" height="23" fill="#ff0000"/>
<rect x="125" y="166" width="1" height="21" fill="#ff3a00"/>
<rect x="129" y="147" width="1" height="23" fill="#ff0000"/>
<rect x="128" y="152" width="3" height="14" fill="#ff0000"/>
<rect x="129" y="153" width="1" height="12" fill="#ff3a00"/>
<rect x="133" y="141" width="1" height="16" fill="#ff0000"/>
<rect x="132" y="150" width="3" height="3" fill="#ff0000"/>
<rect x="133" y="151" width="1" height="1" fill="#ff3a00"/>
<rect x="137" y="145" width="1" height="5" fill="#ff0000"/>
<rect x="136" y="148" width="3" height="1" fill="#ff0000"/>
<rect x="141" y="147" width="1" height="21" fill="#32cd32"/>
<rect x="140" y="147" width="3" height="6" fill="#32cd32"/>
<rect x="145" y="121" width="1" height="32" fill="#ff0000"/>
<rect x="144" y="126" width="3" height="27" fill="#ff0000"/>
<rect x="145" y="127" width="1" height="25" fill="#ff3a00"/>
<rect x="149" y="105" width="1" height="26" fill="#ff0000"/>
<rect x="148" y="108" width="3" height="17" fill="#ff0000"/>
<rect x="149" y="109" width="1" height="15" fill="#ff3a00"/>
<rect x="153" y="104" width="1" height="30" fill="#32cd32"/>
<rect x="152" y="108" width="3" height="24" fill="#32cd32"/>
<rect x="157" y="109" width="1" height="26" fill="#ff0000"/>
<rect x="156" y="130" width="3" height="1" fill="#ff0000"/>
<rect x="161" y="128" width="1" height="3" fill="#32cd32"/>
<rect x="160" y="128" width="3" height="1" fill="#32cd32"/>
<rect x="165" y="112" width="1" height="18" fill="#ff0000"/>
<rect x="164" y="119" width="3" height="10" fill="#ff0000"/>
<rect x="165" y="120" width="1" height="8" fill="#ff3a00"/>
<rect x="169" y="104" width="1" height="16" fill="#ff0000"/>
<rect x="168" y="109" width="3" height="10" fill="#ff0000"/>
<rect x="169" y="110" width="1" height="8" fill="#ff3a00"/>
<rect x="173" y="104" width="1" height="17" fill="#32cd32"/>
<rect x="172" y="109" width="3" height="7" fill="#32cd32"/>
<rect x="177" y="100" width="1" height="25" fill="#ff0000"/>
<rect x="176" y="101" width="3" height="15" fill="#ff0000"/>
<rect x="177" y="102" width="1" height="13" fill="#ff3a00"/>
<rect x="181" y="96" width="1" height="20" fill="#32cd32"/>
<rect x="180" y="97" width="3" height="4" fill="#32cd32"/>
<rect x="185" y="106" width="1" height="5" fill="#ff0000"/>
<rect x="184" y="107" width="3" height="3" fill="#ff0000"/>
<rect x="185" y="108" width="1" height="1" fill="#ff3a00"/>
<rect x="189" y="100" width="1" height="21" fill="#ff0000"/>
<rect x="188" y="105" width="3" height="1" fill="#ff0000"/>
<rect x="193" y="100" width="1" height="50" fill="#32cd32"/>
<rect x="192" y="106" width="3" height="38" fill="#32cd32"/>
<rect x="197" y="128" width="1" height="26" fill="#ff0000"/>
<rect x="196" y="128" width="3" height="16" fill="#ff0000"/>
<rect x="197" y="129" width="1" height="14" fill="#ff3a00"/>
<rect x="201" y="128" width="1" height="39" fill="#32cd32"/>
<rect x="200" y="128" width="3" height="28" fill="#32cd32"/>
<rect x="205" y="153" width="1" height="23" fill="#32cd32"/>
<rect x="204" y="155" width="3" height="6" fill="#32cd32"/>
<rect x="209" y="157" width="1" height="4" fill="#32cd32"/>
<rect x="208" y="160" width="3" height="1" fill="#32cd32"/>
<rect x="213" y="146" width="1" height="20" fill="#ff0000"/>
<rect x="212" y="152" width="3" height="8" fill="#ff0000"/>
<rect x="213" y="153" width="1" height="6" fill="#ff3a00"/>
<rect x="217" y="146" width="1" height="30" fill="#32cd32"/>
<rect x="216" y="152" width="3" height="18" fill="#32cd32"/>
<rect x="221" y="162" width="1" height="30" fill="#32cd32"/>
<rect x="220" y="169" width="3" height="19" fill="#32cd32"/>
<rect x="225" y="184" width="1" height="24" fill="#32cd32"/>
<rect x="224" y="187" width="3" height="20" fill="#32cd32"/>
<rect x="229" y="187" width="1" height="25" fill="#ff0000"/>
<rect x="228" y="189" width="3" height="18" fill="#ff0000"/>
<rect x="229" y="190" width="1" height="16" fill="#ff3a00"/>
<rect x="233" y="186" width="1" height="3" fill="#ff0000"/>
<rect x="232" y="188" width="3" height="1" fill="#ff0000"/>
<rect x="237" y="171" width="1" height="21" fill="#ff0000"/>
<rect x="236" y="182" width="3" height="6" fill="#ff0000"/>
<rect x="237" y="183" width="1" height="4" fill="#ff3a00"/>
<rect x="241" y="172" width="1" height="34" fill="#32cd32"/>
<rect x="240" y="182" width="3" height="20" fill="#32cd32"/>
<rect x="245" y="200" width="1" height="21" fill="#32cd32"/>
<rect x="244" y="201" width="3" height="15" fill="#32cd32"/>
<rect x="249" y="205" width="1" height="18" fill="#ff0000"/>
<rect x="248" y="212" width="3" height="4" fill="#ff0000"/>
<rect x="249" y="213" width="1" height="2" fill="#ff3a00"/>
<rect x="253" y="205" width="1" height="28" fill="#32cd32"/>
<rect x="252" y="212" width="3" height="18" fill="#32cd32"/>
<rect x="257" y="231" width="1" height="3" fill="#ff0000"/>
<rect x="256" y="232" width="3" height="1" fill="#ff0000"/>
<rect x="261" y="213" width="1" height="24" fill="#32cd32"/>
<rect x="260" y="231" width="3" height="3" fill="#32cd32"/>
<rect x="265" y="229" width="1" height="13" fill="#32cd32"/>
<rect x="264" y="233" width="3" height="3" fill="#32cd32"/>
<rect x="269" y="233" width="1" height="20" fill="#32cd32"/>
<rect x="268" y="236" width="3" height="10" fill="#32cd32"/>
<rect x="273" y="241" width="1" height="17" fill="#32cd32"/>
<rect x="272" y="244" width="3" height="14" fill="#32cd32"/>
<rect x="277" y="255" width="1" height="29" fill="#32cd32"/>
<rect x="276" y="257" width="3" height="25" fill="#32cd32"/>
<rect x="281" y="269" width="1" height="13" fill="#ff0000"/>
<rect x="280" y="270" width="3" height="12" fill="#ff0000"/>
<rect x="281" y="271" width="1" height="10" fill="#ff3a00"/>
<rect x="285" y="263" width="1" height="21" fill="#ff0000"/>
<rect x="284" y="270" width="3" height="1" fill="#ff0000"/>
<rect x="289" y="258" width="1" height="48" fill="#32cd32"/>
<rect x="288" y="269" width="3" height="10" fill="#32cd32"/>
<rect x="293" y="257" width="1" height="35" fill="#32cd32"/>
<rect x="292" y="278" width="3" height="8" fill="#32cd32"/>
<rect x="297" y="280" width="1" height="16" fill="#32cd32"/>
<rect x="296" y="285" width="3" height="10" fill="#32cd32"/>
<rect x="301" y="293" width="1" height="41" fill="#32cd32"/>
<rect x="300" y="294" width="3" height="40" fill="#32cd32"/>
<rect x="305" y="323" width="1" height="10" fill="#ff0000"/>
<rect x="304" y="324" width="3" height="9" fill="#ff0000"/>
<rect x="305" y="325" width="1" height="7" fill="#ff3a00"/>
<rect x="309" y="308" width="1" height="22" fill="#ff0000"/>
<rect x="308" y="311" width="3" height="15" fill="#ff0000"/>
<rect x="309" y="312" width="1" height="13" fill="#ff3a00"/>
<rect x="313" y="278" width="1" height="38" fill="#ff0000"/>
<rect x="312" y="279" width="3" height="33" fill="#ff0000"/>
<rect x="313" y="280" width="1" height="31" fill="#ff3a00"/>
<rect x="317" y="252" width="1" height="30" fill="#ff0000"/>
<rect x="316" y="259" width="3" height="21" fill="#ff0000"/>
<rect x="317" y="260" width="1" height="19" fill="#ff3a00"/>
<rect x="321" y="251" width="1" height="23" fill="#32cd32"/>
<rect x="320" y="259" width="3" height="10" fill="#32cd32"/>
<rect x="325" y="253" width="1" height="23" fill="#ff0000"/>
<rect x="324" y="259" width="3" height="9" fill="#ff0000"/>
<rect x="325" y="260" width="1" height="7" fill="#ff3a00"/>
<rect x="329" y="257" width="1" height="6" fill="#ff0000"/>
<rect x="328" y="260" width="3" height="3" fill="#ff0000"/>
<rect x="329" y="261" width="1" height="1" fill="#ff3a00"/>
<rect x="333" y="255" width="1" height="30" fill="#32cd32"/>
<rect x="332" y="260" width="3" height="15" fill="#32cd32"/>
<rect x="337" y="273" width="1" height="21" fill="#32cd32"/>
<rect x="336" y="275" width="3" height="13" fill="#32cd32"/>
<rect x="341" y="255" width="1" height="38" fill="#ff0000"/>
<rect x="340" y="260" width="3" height="28" fill="#ff0000"/>
<rect x="341" y="261" width="1" height="26" fill="#ff3a00"/>
<rect x="345" y="235" width="1" height="35" fill="#ff0000"/>
<rect x="344" y="256" width="3" height="5" fill="#ff0000"/>
<rect x="345" y="257" width="1" height="3" fill="#ff3a00"/>
<rect x="349" y="253" width="1" height="22" fill="#32cd32"/>
<rect x="348" y="256" width="3" height="18" fill="#32cd32"/>
<rect x="353" y="276" width="1" height="9" fill="#32cd32"/>
<rect x="352" y="276" width="3" height="6" fill="#32cd32"/>
<rect x="357" y="277" width="1" height="20" fill="#32cd32"/>
<rect x="356" y="280" width="3" height="6" fill="#32cd32"/>
<rect x="361" y="264" width="1" height="26" fill="#ff0000"/>
<rect x="360" y="268" width="3" height="17" fill="#ff0000"/>
<rect x="361" y="269" width="1" height="15" fill="#ff3a00"/>
<rect x="365" y="236" width="1" height="44" fill="#ff0000"/>
<rect x="364" y="240" width="3" height="29" fill="#ff0000"/>
<rect x="365" y="241" width="1" height="27" fill="#ff3a00"/>
<rect x="369" y="223" width="1" height="25" fill="#ff0000"/>
<rect x="368" y="231" width="3" height="10" fill="#ff0000"/>
<rect x="369" y="232" width="1" height="8" fill="#ff3a00"/>
<rect x="373" y="225" width="1" height="14" fill="#32cd32"/>
<rect x="372" y="231" width="3" height="3" fill="#32cd32"/>
<rect x="377" y="228" width="1" height="5" fill="#000000"/>
<rect x="376" y="232" width="3" height="1" fill="#000000"/>
<rect x="381" y="226" width="1" height="18" fill="#ff0000"/>
<rect x="380" y="230" width="3" height="3" fill="#ff0000"/>
<rect x="381" y="231" width="1" height="1" fill="#ff3a00"/>
<rect x="385" y="218" width="1" height="20" fill="#32cd32"/>
<rect x="384" y="229" width="3" height="3" fill="#32cd32"/>
<rect x="389" y="214" width="1" height="26" fill="#ff0000"/>
<rect x="388" y="220" width="3" height="12" fill="#ff0000"/>
<rect x="389" y="221" width="1" height="10" fill="#ff3a00"/>
<rect x="393" y="212" width="1" height="15" fill="#32cd32"/>
<rect x="392" y="220" width="3" height="5" fill="#32cd32"/>
<rect x="397" y="211" width="1" height="16" fill="#ff0000"/>
<rect x="396" y="214" width="3" height="11" fill="#ff0000"/>
<rect x="397" y="215" width="1" height="9" fill="#ff3a00"/>
<rect x="401" y="212" width="1" height="5" fill="#ff0000"/>
<rect x="400" y="216" width="3" height="1" fill="#ff0000"/>
<rect x="405" y="212" width="1" height="40" fill="#32cd32"/>
<rect x="404" y="216" width="3" height="32" fill="#32cd32"/>
<rect x="409" y="224" width="1" height="28" fill="#ff0000"/>
<rect x="408" y="228" width="3" height="20" fill="#ff0000"/>
<rect x="409" y="229" width="1" height="18" fill="#ff3a00"/>
<rect x="413" y="214" width="1" height="26" fill="#32cd32"/>
<rect x="412" y="228" width="3" height="9" fill="#32cd32"/>
<rect x="417" y="236" width="1" height="34" fill="#32cd32"/>
<rect x="416" y="236" width="3" height="26" fill="#32cd32"/>
<rect x="421" y="250" width="1" height="27" fill="#ff0000"/>
<rect x="420" y="252" width="3" height="10" fill="#ff0000"/>
<rect x="421" y="253" width="1" height="8" fill="#ff3a00"/>
<rect x="425" y="252" width="1" height="5" fill="#ff0000"/>
<rect x="424" y="254" width="3" height="1" fill="#ff0000"/>
<rect x="429" y="244" width="1" height="24" fill="#ff0000"/>
<rect x="428" y="254" width="3" height="2" fill="#ff0000"/>
<rect x="433" y="239" width="1" height="26" fill="#ff0000"/>
<rect x="432" y="241" width="3" height="14" fill="#ff0000"/>
<rect x="433" y="242" width="1" height="12" fill="#ff3a00"/>
<rect x="437" y="205" width="1" height="41" fill="#ff0000"/>
<rect x="436" y="210" width="3" height="31" fill="#ff0000"/>
<rect x="437" y="211" width="1" height="29" fill="#ff3a00"/>
<rect x="441" y="191" width="1" height="23" fill="#ff0000"/>
<rect x="440" y="210" width="3" height="1" fill="#ff0000"/>
<rect x="445" y="204" width="1" height="43" fill="#32cd32"/>
<rect x="444" y="211" width="3" height="32" fill="#32cd32"/>
<rect x="449" y="237" width="1" height="6" fill="#ff0000"/>
<rect x="448" y="238" width="3" height="2" fill="#ff0000"/>
<rect x="453" y="232" width="1" height="16" fill="#32cd32"/>
<rect x="452" y="238" width="3" height="2" fill="#32cd32"/>
<rect x="457" y="233" width="1" height="26" fill="#32cd32"/>
<rect x="456" y="240" width="3" height="12" fill="#32cd32"/>
<rect x="461" y="229" width="1" height="27" fill="#ff0000"/>
<rect x="460" y="238" width="3" height="13" fill="#ff0000"/>
<rect x="461" y="239" width="1" height="11" fill="#ff3a00"/>
<rect x="465" y="212" width="1" height="32" fill="#32cd32"/>
<rect x="464" y="238" width="3" height="2" fill="#32cd32"/>
<rect x="469" y="237" width="1" height="20" fill="#32cd32"/>
<rect x="468" y="238" width="3" height="18" fill="#32cd32"/>
<rect x="473" y="250" width="1" height="8" fill="#ff0000"/>
<rect x="472" y="250" width="3" height="7" fill="#ff0000"/>
<rect x="473" y="251" width="1" height="5" fill="#ff3a00"/>
<rect x="477" y="251" width="1" height="43" fill="#32cd32"/>
<rect x="476" y="251" width="3" height="15" fill="#32cd32"/>
<rect x="481" y="255" width="1" height="25" fill="#ff0000"/>
<rect x="480" y="263" width="3" height="3" fill="#ff0000"/>
<rect x="481" y="264" width="1" height="1" fill="#ff3a00"/>
<rect x="485" y="253" width="1" height="38" fill="#32cd32"/>
<rect x="484" y="263" width="3" height="17" fill="#32cd32"/>
<rect x="489" y="279" width="1" height="44" fill="#32cd32"/>
<rect x="488" y="279" width="3" height="39" fill="#32cd32"/>
<rect x="493" y="312" width="1" height="35" fill="#32cd32"/>
<rect x="492" y="317" width="3" height="23" fill="#32cd32"/>
<rect x="497" y="333" width="1" height="6" fill="#ff0000"/>
<rect x="496" y="334" width="3" height="1" fill="#ff0000"/>
<rect x="501" y="299" width="1" height="37" fill="#ff0000"/>
<rect x="500" y="302" width="3" height="33" fill="#ff0000"/>
<rect x="501" y="303" width="1" height="31" fill="#ff3a00"/>
<rect x="505" y="272" width="1" height="46" fill="#ff0000"/>
<rect x="504" y="274" width="3" height="28" fill="#ff0000"/>
<rect x="505" y="275" width="1" height="26" fill="#ff3a00"/>
<rect x="509" y="263" width="1" height="20" fill="#32cd32"/>
<rect x="508" y="274" width="3" height="8" fill="#32cd32"/>
<rect x="513" y="259" width="1" height="26" fill="#ff0000"/>
<rect x="512" y="270" width="3" height="11" fill="#ff0000"/>
<rect x="513" y="271" width="1" height="9" fill="#ff3a00"/>
<rect x="517" y="266" width="1" height="44" fill="#32cd32"/>
<rect x="516" y="270" width="3" height="30" fill="#32cd32"/>
<rect x="521" y="296" width="1" height="3" fill="#32cd32"/>
<rect x="520" y="297" width="3" height="1" fill="#32cd32"/>
<rect x="525" y="275" width="1" height="30" fill="#ff0000"/>
<rect x="524" y="277" width="3" height="21" fill="#ff0000"/>
<rect x="525" y="278" width="1" height="19" fill="#ff3a00"/>
<rect x="529" y="268" width="1" height="19" fill="#ff0000"/>
<rect x="528" y="269" width="3" height="9" fill="#ff0000"/>
<rect x="529" y="270" width="1" height="7" fill="#ff3a00"/>
<rect x="533" y="247" width="1" height="24" fill="#ff0000"/>
<rect x="532" y="255" width="3" height="15" fill="#ff0000"/>
<rect x="533" y="256" width="1" height="13" fill="#ff3a00"/>
<rect x="537" y="223" width="1" height="45" fill="#32cd32"/>
<rect x="536" y="255" width="3" height="7" fill="#32cd32"/>
<rect x="541" y="252" width="1" height="34" fill="#32cd32"/>
<rect x="540" y="262" width="3" height="16" fill="#32cd32"/>
<rect x="545" y="267" width="1" height="10" fill="#ff0000"/>
<rect x="544" y="268" width="3" height="8" fill="#ff0000"/>
<rect x="545" y="269" width="1" height="6" fill="#ff3a00"/>
<rect x="549" y="268" width="1" height="28" fill="#32cd32"/>
<rect x="548" y="269" width="3" height="7" fill="#32cd32"/>
<rect x="553" y="264" width="1" height="25" fill="#ff0000"/>
<rect x="552" y="268" width="3" height="7" fill="#ff0000"/>
<rect x="553" y="269" width="1" height="5" fill="#ff3a00"/>
<rect x="557" y="242" width="1" height="29" fill="#ff0000"/>
<rect x="556" y="248" width="3" height="21" fill="#ff0000"/>
<rect x="557" y="249" width="1" height="19" fill="#ff3a00"/>
<rect x="561" y="238" width="1" height="30" fill="#32cd32"/>
<rect x="560" y="248" width="3" height="3" fill="#32cd32"/>
<rect x="565" y="233" width="1" height="28" fill="#32cd32"/>
<rect x="564" y="251" width="3" height="1" fill="#32cd32"/>
<rect x="569" y="256" width="1" height="4" fill="#32cd32"/>
<rect x="568" y="257" width="3" height="1" fill="#32cd32"/>
<rect x="573" y="235" width="1" height="25" fill="#ff0000"/>
<rect x="572" y="252" width="3" height="6" fill="#ff0000"/>
<rect x="573" y="253" width="1" height="4" fill="#ff3a00"/>
<rect x="577" y="231" width="1" height="23" fill="#ff0000"/>
<rect x="576" y="232" width="3" height="21" fill="#ff0000"/>
<rect x="577" y="233" width="1" height="19" fill="#ff3a00"/>
<rect x="581" y="209" width="1" height="29" fill="#ff0000"/>
<rect x="580" y="233" width="3" height="1" fill="#ff0000"/>
<rect x="585" y="232" width="1" height="60" fill="#32cd32"/>
<rect x="584" y="232" width="3" height="31" fill="#32cd32"/>
<rect x="589" y="229" width="1" height="42" fill="#ff0000"/>
<rect x="588" y="230" width="3" height="33" fill="#ff0000"/>
<rect x="589" y="231" width="1" height="31" fill="#ff3a00"/>
<rect x="593" y="250" width="1" height="9" fill="#ff0000"/>
<rect x="592" y="252" width="3" height="3" fill="#ff0000"/>
<rect x="593" y="253" width="1" height="1" fill="#ff3a00"/>
<rect x="597" y="216" width="1" height="43" fill="#ff0000"/>
<rect x="596" y="220" width="3" height="33" fill="#ff0000"/>
<rect x="597" y="221" width="1" height="31" fill="#ff3a00"/>
<rect x="601" y="206" width="1" height="23" fill="#ff0000"/>
<rect x="600" y="219" width="3" height="1" fill="#ff0000"/>
<rect x="605" y="199" width="1" height="27" fill="#ff0000"/>
<rect x="604" y="205" width="3" height="15" fill="#ff0000"/>
<rect x="605" y="206" width="1" height="13" fill="#ff3a00"/>
<rect x="609" y="181" width="1" height="32" fill="#ff0000"/>
<rect x="608" y="186" width="3" height="18" fill="#ff0000"/>
<rect x="609" y="187" width="1" height="16" fill="#ff3a00"/>
<rect x="613" y="167" width="1" height="35" fill="#ff0000"/>
<rect x="612" y="171" width="3" height="15" fill="#ff0000"/>
<rect x="613" y="172" width="1" height="13" fill="#ff3a00"/>
<rect x="617" y="160" width="1" height="19" fill="#ff0000"/>
<rect x="616" y="161" width="3" height="10" fill="#ff0000"/>
<rect x="617" y="162" width="1" height="8" fill="#ff3a00"/>
<rect x="621" y="140" width="1" height="58" fill="#32cd32"/>
<rect x="620" y="161" width="3" height="28" fill="#32cd32"/>
<rect x="625" y="181" width="1" height="45" fill="#32cd32"/>
<rect x="624" y="189" width="3" height="28" fill="#32cd32"/>
<rect x="629" y="185" width="1" height="32" fill="#ff0000"/>
<rect x="628" y="194" width="3" height="23" fill="#ff0000"/>
<rect x="629" y="195" width="1" height="21" fill="#ff3a00"/>
<rect x="633" y="172" width="1" height="32" fill="#ff0000"/>
<rect x="632" y="173" width="3" height="21" fill="#ff0000"/>
<rect x="633" y="174" width="1" height="19" fill="#ff3a00"/>
<rect x="637" y="172" width="1" height="33" fill="#32cd32"/>
<rect x="636" y="173" width="3" height="31" fill="#32cd32"/>
<rect x="641" y="202" width="1" height="6" fill="#ff0000"/>
<rect x="640" y="203" width="3" height="4" fill="#ff0000"/>
<rect x="641" y="204" width="1" height="2" fill="#ff3a00"/>
<rect x="645" y="203" width="1" height="49" fill="#32cd32"/>
<rect x="644" y="203" width="3" height="43" fill="#32cd32"/>
<rect x="649" y="233" width="1" height="28" fill="#32cd32"/>
<rect x="648" y="246" width="3" height="5" fill="#32cd32"/>
<rect x="653" y="203" width="1" height="52" fill="#ff0000"/>
<rect x="652" y="207" width="3" height="43" fill="#ff0000"/>
<rect x="653" y="208" width="1" height="41" fill="#ff3a00"/>
<rect x="657" y="161" width="1" height="49" fill="#ff0000"/>
<rect x="656" y="165" width="3" height="43" fill="#ff0000"/>
<rect x="657" y="166" width="1" height="41" fill="#ff3a00"/>
<rect x="661" y="150" width="1" height="25" fill="#ff0000"/>
<rect x="660" y="156" width="3" height="10" fill="#ff0000"/>
<rect x="661" y="157" width="1" height="8" fill="#ff3a00"/>
<rect x="665" y="152" width="1" height="4" fill="#ff0000"/>
<rect x="664" y="154" width="3" height="1" fill="#ff0000"/>
<rect x="669" y="147" width="1" height="23" fill="#32cd32"/>
<rect x="668" y="154" width="3" height="6" fill="#32cd32"/>
<rect x="673" y="125" width="1" height="45" fill="#ff0000"/>
<rect x="672" y="131" width="3" height="29" fill="#ff0000"/>
<rect x="673" y="132" width="1" height="27" fill="#ff3a00"/>
<rect x="677" y="112" width="1" height="25" fill="#ff0000"/>
<rect x="676" y="115" width="3" height="17" fill="#ff0000"/>
<rect x="677" y="116" width="1" height="15" fill="#ff3a00"/>
<rect x="681" y="103" width="1" height="27" fill="#ff0000"/>
<rect x="680" y="110" width="3" height="5" fill="#ff0000"/>
<rect x="681" y="111" width="1" height="3" fill="#ff3a00"/>
<rect x="685" y="99" width="1" height="18" fill="#ff0000"/>
<rect x="684" y="105" width="3" height="5" fill="#ff0000"/>
<rect x="685" y="106" width="1" height="3" fill="#ff3a00"/>
<rect x="689" y="105" width="1" height="5" fill="#ff0000"/>
<rect x="688" y="107" width="3" height="2" fill="#ff0000"/>
<rect x="693" y="97" width="1" height="33" fill="#32cd32"/>
<rect x="692" y="107" width="3" height="10" fill="#32cd32"/>
<rect x="697" y="104" width="1" height="31" fill="#ff0000"/>
<rect x="696" y="108" width="3" height="9" fill="#ff0000"/>
<rect x="697" y="109" width="1" height="7" fill="#ff3a00"/>
<rect x="701" y="99" width="1" height="18" fill="#32cd32"/>
<rect x="700" y="109" width="3" height="5" fill="#32cd32"/>
<rect x="705" y="104" width="1" height="25" fill="#32cd32"/>
<rect x="704" y="114" width="3" height="4" fill="#32cd32"/>
<rect x="709" y="104" width="1" height="23" fill="#ff0000"/>
<rect x="708" y="117" width="3" height="1" fill="#ff0000"/>
<rect x="713" y="118" width="1" height="3" fill="#32cd32"/>
<rect x="712" y="120" width="3" height="1" fill="#32cd32"/>
<rect x="717" y="90" width="1" height="33" fill="#ff0000"/>
<rect x="716" y="96" width="3" height="25" fill="#ff0000"/>
<rect x="717" y="97" width="1" height="23" fill="#ff3a00"/>
<rect x="721" y="45" width="1" height="55" fill="#ff0000"/>
<rect x="720" y="78" width="3" height="19" fill="#ff0000"/>
<rect x="721" y="79" width="1" height="17" fill="#ff3a00"/>
<rect x="725" y="74" width="1" height="47" fill="#32cd32"/>
<rect x="724" y="77" width="3" height="36" fill="#32cd32"/>
<rect x="729" y="109" width="1" height="21" fill="#32cd32"/>
<rect x="728" y="112" width="3" height="12" fill="#32cd32"/>
<rect x="733" y="118" width="1" height="30" fill="#32cd32"/>
<rect x="732" y="124" width="3" height="9" fill="#32cd32"/>
<rect x="737" y="130" width="1" height="10" fill="#32cd32"/>
<rect x="736" y="132" width="3" height="7" fill="#32cd32"/>
<rect x="741" y="132" width="1" height="22" fill="#32cd32"/>
<rect x="740" y="139" width="3" height="13" fill="#32cd32"/>
<rect x="745" y="118" width="1" height="38" fill="#ff0000"/>
<rect x="744" y="135" width="3" height="17" fill="#ff0000"/>
<rect x="745" y="136" width="1" height="15" fill="#ff3a00"/>
<rect x="749" y="126" width="1" height="36" fill="#32cd32"/>
<rect x="748" y="135" width="3" height="2" fill="#32cd32"/>
<rect x="753" y="128" width="1" height="32" fill="#32cd32"/>
<rect x="752" y="135" width="3" height="20" fill="#32cd32"/>
<rect x="757" y="152" width="1" height="10" fill="#32cd32"/>
<rect x="756" y="155" width="3" height="7" fill="#32cd32"/>
<rect x="761" y="156" width="1" height="6" fill="#32cd32"/>
<rect x="760" y="158" width="3" height="2" fill="#32cd32"/>
<rect x="765" y="160" width="1" height="24" fill="#32cd32"/>
<rect x="764" y="160" width="3" height="17" fill="#32cd32"/>
<rect x="769" y="159" width="1" height="24" fill="#ff0000"/>
<rect x="768" y="161" width="3" height="17" fill="#ff0000"/>
<rect x="769" y="162" width="1" height="15" fill="#ff3a00"/>
<rect x="773" y="133" width="1" height="37" fill="#ff0000"/>
<rect x="772" y="139" width="3" height="22" fill="#ff0000"/>
<rect x="773" y="140" width="1" height="20" fill="#ff3a00"/>
<rect x="777" y="133" width="1" height="44" fill="#32cd32"/>
<rect x="776" y="139" width="3" height="36" fill="#32cd32"/>
<rect x="781" y="172" width="1" height="59" fill="#32cd32"/>
<rect x="780" y="175" width="3" height="55" fill="#32cd32"/>
<rect x="785" y="227" width="1" height="5" fill="#32cd32"/>
<rect x="784" y="227" width="3" height="5" fill="#32cd32"/>
<rect x="789" y="230" width="1" height="44" fill="#32cd32"/>
<rect x="788" y="231" width="3" height="25" fill="#32cd32"/>
<rect x="793" y="233" width="1" height="48" fill="#32cd32"/>
<rect x="792" y="255" width="3" height="17" fill="#32cd32"/>
<rect x="797" y="249" width="1" height="40" fill="#32cd32"/>
<rect x="796" y="270" width="3" height="10" fill="#32cd32"/>
<rect x="801" y="262" width="1" height="46" fill="#32cd32"/>
<rect x="800" y="279" width="3" height="7" fill="#32cd32"/>
<rect x="805" y="254" width="1" height="44" fill="#32cd32"/>
<rect x="804" y="284" width="3" height="13" fill="#32cd32"/>
<rect x="809" y="299" width="1" height="7" fill="#32cd32"/>
<rect x="808" y="302" width="3" height="4" fill="#32cd32"/>
<rect x="813" y="296" width="1" height="24" fill="#32cd32"/>
<rect x="812" y="304" width="3" height="6" fill="#32cd32"/>
<rect x="817" y="268" width="1" height="42" fill="#ff0000"/>
<rect x="816" y="288" width="3" height="22" fill="#ff0000"/>
<rect x="817" y="289" width="1" height="20" fill="#ff3a00"/>
<rect x="821" y="217" width="1" height="76" fill="#ff0000"/>
<rect x="820" y="223" width="3" height="66" fill="#ff0000"/>
<rect x="821" y="224" width="1" height="64" fill="#ff3a00"/>
<rect x="825" y="216" width="1" height="83" fill="#32cd32"/>
<rect x="824" y="223" width="3" height="57" fill="#32cd32"/>
<rect x="829" y="273" width="1" height="35" fill="#32cd32"/>
<rect x="828" y="280" width="3" height="21" fill="#32cd32"/>
<rect x="833" y="309" width="1" height="6" fill="#32cd32"/>
<rect x="832" y="310" width="3" height="4" fill="#32cd32"/>
<rect x="837" y="312" width="1" height="46" fill="#32cd32"/>
<rect x="836" y="312" width="3" height="41" fill="#32cd32"/>
<rect x="841" y="338" width="1" height="34" fill="#32cd32"/>
<rect x="840" y="352" width="3" height="10" fill="#32cd32"/>
<rect x="845" y="310" width="1" height="55" fill="#32cd32"/>
<rect x="844" y="361" width="3" height="4" fill="#32cd32"/>
<rect x="849" y="352" width="1" height="55" fill="#32cd32"/>
<rect x="848" y="364" width="3" height="26" fill="#32cd32"/>
<rect x="853" y="362" width="1" height="31" fill="#ff0000"/>
<rect x="852" y="366" width="3" height="24" fill="#ff0000"/>
<rect x="853" y="367" width="1" height="22" fill="#ff3a00"/>
<rect x="857" y="352" width="1" height="8" fill="#ff0000"/>
<rect x="856" y="355" width="3" height="3" fill="#ff0000"/>
<rect x="857" y="356" width="1" height="1" fill="#ff3a00"/>
<rect x="861" y="340" width="1" height="48" fill="#ff0000"/>
<rect x="860" y="344" width="3" height="11" fill="#ff0000"/>
<rect x="861" y="345" width="1" height="9" fill="#ff3a00"/>
<rect x="865" y="314" width="1" height="31" fill="#ff0000"/>
<rect x="864" y="319" width="3" height="25" fill="#ff0000"/>
<rect x="865" y="320" width="1" height="23" fill="#ff3a00"/>
<rect x="869" y="312" width="1" height="42" fill="#32cd32"/>
<rect x="868" y="319" width="3" height="31" fill="#32cd32"/>
<rect x="873" y="300" width="1" height="53" fill="#ff0000"/>
<rect x="872" y="314" width="3" height="37" fill="#ff0000"/>
<rect x="873" y="315" width="1" height="35" fill="#ff3a00"/>
<rect x="877" y="300" width="1" height="32" fill="#32cd32"/>
<rect x="876" y="314" width="3" height="10" fill="#32cd32"/>
<rect x="881" y="302" width="1" height="6" fill="#32cd32"/>
<rect x="880" y="304" width="3" height="1" fill="#32cd32"/>
<rect x="885" y="277" width="1" height="31" fill="#ff0000"/>
<rect x="884" y="294" width="3" height="12" fill="#ff0000"/>
<rect x="885" y="295" width="1" height="10" fill="#ff3a00"/>
<rect x="889" y="280" width="1" height="28" fill="#ff0000"/>
<rect x="888" y="288" width="3" height="7" fill="#ff0000"/>
<rect x="889" y="289" width="1" height="5" fill="#ff3a00"/>
<rect x="893" y="280" width="1" height="38" fill="#32cd32"/>
<rect x="892" y="288" width="3" height="6" fill="#32cd32"/>
<rect x="897" y="284" width="1" height="24" fill="#ff0000"/>
<rect x="896" y="289" width="3" height="4" fill="#ff0000"/>
<rect x="897" y="290" width="1" height="2" fill="#ff3a00"/>
<rect x="901" y="260" width="1" height="34" fill="#ff0000"/>
<rect x="900" y="264" width="3" height="25" fill="#ff0000"/>
<rect x="901" y="265" width="1" height="23" fill="#ff3a00"/>
<rect x="905" y="260" width="1" height="6" fill="#ff0000"/>
<rect x="904" y="263" width="3" height="2" fill="#ff0000"/>
<rect x="909" y="245" width="1" height="20" fill="#ff0000"/>
<rect x="908" y="248" width="3" height="16" fill="#ff0000"/>
<rect x="909" y="249" width="1" height="14" fill="#ff3a00"/>
<rect x="913" y="244" width="1" height="24" fill="#32cd32"/>
<rect x="912" y="248" width="3" height="6" fill="#32cd32"/>
<rect x="917" y="232" width="1" height="33" fill="#32cd32"/>
<rect x="916" y="252" width="3" height="7" fill="#32cd32"/>
<rect x="921" y="215" width="1" height="57" fill="#ff0000"/>
<rect x="920" y="217" width="3" height="41" fill="#ff0000"/>
<rect x="921" y="218" width="1" height="39" fill="#ff3a00"/>
<rect x="925" y="209" width="1" height="36" fill="#32cd32"/>
<rect x="924" y="217" width="3" height="23" fill="#32cd32"/>
</g>
<g shape-rendering="crispEdges">
<rect x="5" y="441" width="2" height="7" fill="#c0c0c0"/>
<rect x="8" y="442" width="3" height="6" fill="#c0c0c0"/>
<rect x="12" y="442" width="3" height="6" fill="#c0c0c0"/>
<rect x="16" y="443" width="3" height="5" fill="#c0c0c0"/>
<rect x="20" y="444" width="3" height="4" fill="#c0c0c0"/>
<rect x="24" y="445" width="3" height="3" fill="#c0c0c0"/>
<rect x="28" y="446" width="3" height="2" fill="#c0c0c0"/>
<rect x="32" y="448" width="2" height="1" fill="#c0c0c0"/>
<rect x="36" y="448" width="3" height="2" fill="#c0c0c0"/>
<rect x="40" y="448" width="3" height="4" fill="#c0c0c0"/>
<rect x="44" y="448" width="3" height="5" fill="#c0c0c0"/>
<rect x="48" y="448" width="3" height="7" fill="#c0c0c0"/>
<rect x="52" y="448" width="3" height="9" fill="#c0c0c0"/>
<rect x="56" y="448" width="3" height="8" fill="#c0c0c0"/>
<rect x="60" y="448" width="3" height="8" fill="#c0c0c0"/>
<rect x="64" y="448" width="3" height="7" fill="#c0c0c0"/>
<rect x="68" y="448" width="3" height="7" fill="#c0c0c0"/>
<rect x="72" y="448" width="3" height="8" fill="#c0c0c0"/>
<rect x="76" y="448" width="3" height="10" fill="#c0c0c0"/>
<rect x="80" y="448" width="3" height="11" fill="#c0c0c0"/>
<rect x="84" y="448" width="3" height="10" fill="#c0c0c0"/>
<rect x="88" y="448" width="3" height="9" fill="#c0c0c0"/>
<rect x="92" y="448" width="3" height="7" fill="#c0c0c0"/>
<rect x="96" y="448" width="3" height="6" fill="#c0c0c0"/>
<rect x="100" y="448" width="3" height="5" fill="#c0c0c0"/>
<rect x="104" y="448" width="3" height="3" fill="#c0c0c0"/>
<rect x="108" y="448" width="3" height="2" fill="#c0c0c0"/>
<rect x="112" y="448" width="3" height="1" fill="#c0c0c0"/>
<rect x="116" y="447" width="3" height="1" fill="#c0c0c0"/>
<rect x="120" y="446" width="3" height="2" fill="#c0c0c0"/>
<rect x="124" y="444" width="3" height="4" fill="#c0c0c0"/>
<rect x="128" y="442" width="3" height="6" fill="#c0c0c0"/>
<rect x="132" y="440" width="3" height="8" fill="#c0c0c0"/>
<rect x="136" y="438" width="3" height="10" fill="#c0c0c0"/>
<rect x="140" y="437" width="3" height="11" fill="#c0c0c0"/>
<rect x="144" y="435" width="3" height="13" fill="#c0c0c0"/>
<rect x="148" y="433" width="3" height="15" fill="#c0c0c0"/>
<rect x="152" y="432" width="3" height="16" fill="#c0c0c0"/>
<rect x="156" y="431" width="3" height="17" fill="#c0c0c0"/>
<rect x="160" y="431" width="3" height="17" fill="#c0c0c0"/>
<rect x="164" y="430" width="3" height="18" fill="#c0c0c0"/>
<rect x="168" y="430" width="3" height="18" fill="#c0c0c0"/>
<rect x="172" y="430" width="3" height="18" fill="#c0c0c0"/>
<rect x="176" y="429" width="3" height="19" fill="#c0c0c0"/>
<rect x="180" y="429" width="3" height="19" fill="#c0c0c0"/>
<rect x="184" y="429" width="3" height="19" fill="#c0c0c0"/>
<rect x="188" y="430" width="3" height="18" fill="#c0c0c0"/>
<rect x="192" y="432" width="3" height="16" fill="#c0c0c0"/>
<rect x="196" y="434" width="3" height="14" fill="#c0c0c0"/>
<rect x="200" y="437" width="3" height="11" fill="#c0c0c0"/>
<rect x="204" y="440" width="3" height="8" fill="#c0c0c0"/>
<rect x="208" y="442" width="3" height="6" fill="#c0c0c0"/>
<rect x="212" y="443" width="3" height="5" fill="#c0c0c0"/>
<rect x="216" y="445" width="3" height="3" fill="#c0c0c0"/>
<rect x="220" y="448" width="2" height="1" fill="#c0c0c0"/>
<rect x="224" y="448" width="3" height="4" fill="#c0c0c0"/>
<rect x="228" y="448" width="3" height="5" fill="#c0c0c0"/>
<rect x="232" y="448" width="3" height="6" fill="#c0c0c0"/>
<rect x="236" y="448" width="3" height="8" fill="#c0c0c0"/>
<rect x="240" y="448" width="3" height="9" fill="#c0c0c0"/>
<rect x="244" y="448" width="3" height="11" fill="#c0c0c0"/>
<rect x="248" y="448" width="3" height="12" fill="#c0c0c0"/>
<rect x="252" y="448" width="3" height="14" fill="#c0c0c0"/>
<rect x="256" y="448" width="3" height="16" fill="#c0c0c0"/>
<rect x="260" y="448" width="3" height="17" fill="#c0c0c0"/>
<rect x="264" y="448" width="3" height="18" fill="#c0c0c0"/>
<rect x="268" y="448" width="3" height="19" fill="#c0c0c0"/>
<rect x="272" y="448" width="3" height="20" fill="#c0c0c0"/>
<rect x="276" y="448" width="3" height="22" fill="#c0c0c0"/>
<rect x="280" y="448" width="3" height="23" fill="#c0c0c0"/>
<rect x="284" y="448" width="3" height="24" fill="#c0c0c0"/>
<rect x="288" y="448" width="3" height="24" fill="#c0c0c0"/>
<rect x="292" y="448" width="3" height="25" fill="#c0c0c0"/>
<rect x="296" y="448" width="3" height="26" fill="#c0c0c0"/>
<rect x="300" y="448" width="3" height="29" fill="#c0c0c0"/>
<rect x="304" y="448" width="3" height="30" fill="#c0c0c0"/>
<rect x="308" y="448" width="3" height="30" fill="#c0c0c0"/>
<rect x="312" y="448" width="3" height="27" fill="#c0c0c0"/>
<rect x="316" y="448" width="3" height="24" fill="#c0c0c0"/>
<rect x="320" y="448" width="3" height="22" fill="#c0c0c0"/>
<rect x="324" y="448" width="3" height="19" fill="#c0c0c0"/>
<rect x="328" y="448" width="3" height="17" fill="#c0c0c0"/>
<rect x="332" y="448" width="3" height="16" fill="#c0c0c0"/>
<rect x="336" y="448" width="3" height="15" fill="#c0c0c0"/>
<rect x="340" y="448" width="3" height="13" fill="#c0c0c0"/>
<rect x="344" y="448" width="3" height="11" fill="#c0c0c0"/>
<rect x="348" y="448" width="3" height="11" fill="#c0c0c0"/>
<rect x="352" y="448" width="3" height="11" fill="#c0c0c0"/>
<rect x="356" y="448" width="3" height="11" fill="#c0c0c0"/>
<rect x="360" y="448" width="3" height="9" fill="#c0c0c0"/>
<rect x="364" y="448" width="3" height="7" fill="#c0c0c0"/>
<rect x="368" y="448" width="3" height="3" fill="#c0c0c0"/>
<rect x="372" y="448" width="3" height="1" fill="#c0c0c0"/>
<rect x="376" y="448" width="2" height="1" fill="#c0c0c0"/>
<rect x="380" y="446" width="3" height="2" fill="#c0c0c0"/>
<rect x="384" y="446" width="3" height="2" fill="#c0c0c0"/>
<rect x="388" y="444" width="3" height="4" fill="#c0c0c0"/>
<rect x="392" y="442" width="3" height="6" fill="#c0c0c0"/>
<rect x="396" y="442" width="3" height="6" fill="#c0c0c0"/>
<rect x="400" y="440" width="3" height="8" fill="#c0c0c0"/>
<rect x="404" y="442" width="3" height="6" fill="#c0c0c0"/>
<rect x="408" y="443" width="3" height="5" fill="#c0c0c0"/>
<rect x="412" y="443" width="3" height="5" fill="#c0c0c0"/>
<rect x="416" y="445" width="3" height="3" fill="#c0c0c0"/>
<rect x="420" y="446" width="3" height="2" fill="#c0c0c0"/>
<rect x="424" y="447" width="3" height="1" fill="#c0c0c0"/>
<rect x="428" y="447" width="3" height="1" fill="#c0c0c0"/>
<rect x="432" y="447" width="3" height="1" fill="#c0c0c0"/>
<rect x="436" y="445" width="3" height="3" fill="#c0c0c0"/>
<rect x="440" y="444" width="3" height="4" fill="#c0c0c0"/>
<rect x="444" y="445" width="3" height="3" fill="#c0c0c0"/>
<rect x="448" y="446" width="3" height="2" fill="#c0c0c0"/>
<rect x="452" y="446" width="3" height="2" fill="#c0c0c0"/>
<rect x="456" y="446" width="3" height="2" fill="#c0c0c0"/>
<rect x="460" y="446" width="3" height="2" fill="#c0c0c0"/>
<rect x="464" y="447" width="3" height="1" fill="#c0c0c0"/>
<rect x="468" y="448" width="3" height="1" fill="#c0c0c0"/>
<rect x="472" y="448" width="3" height="1" fill="#c0c0c0"/>
<rect x="476" y="448" width="3" height="3" fill="#c0c0c0"/>
<rect x="480" y="448" width="3" height="4" fill="#c0c0c0"/>
<rect x="484" y="448" width="3" height="5" fill="#c0c0c0"/>
<rect x="488" y="448" width="3" height="9" fill="#c0c0c0"/>
<rect x="492" y="448" width="3" height="13" fill="#c0c0c0"/>
<rect x="496" y="448" width="3" height="16" fill="#c0c0c0"/>
<rect x="500" y="448" width="3" height="16" fill="#c0c0c0"/>
<rect x="504" y="448" width="3" height="14" fill="#c0c0c0"/>
<rect x="508" y="448" width="3" height="13" fill="#c0c0c0"/>
<rect x="512" y="448" width="3" height="11" fill="#c0c0c0"/>
<rect x="516" y="448" width="3" height="11" fill="#c0c0c0"/>
<rect x="520" y="448" width="3" height="11" fill="#c0c0c0"/>
<rect x="524" y="448" width="3" height="10" fill="#c0c0c0"/>
<rect x="528" y="448" width="3" height="8" fill="#c0c0c0"/>
<rect x="532" y="448" width="3" height="6" fill="#c0c0c0"/>
<rect x="536" y="448" width="3" height="5" fill="#c0c0c0"/>
<rect x="540" y="448" width="3" height="4" fill="#c0c0c0"/>
<rect x="544" y="448" width="3" height="3" fill="#c0c0c0"/>
<rect x="548" y="448" width="3" height="3" fill="#c0c0c0"/>
<rect x="552" y="448" width="3" height="3" fill="#c0c0c0"/>
<rect x="556" y="448" width="3" height="1" fill="#c0c0c0"/>
<rect x="560" y="448" width="2" height="1" fill="#c0c0c0"/>
<rect x="564" y="447" width="3" height="1" fill="#c0c0c0"/>
<rect x="568" y="446" width="3" height="2" fill="#c0c0c0"/>
<rect x="572" y="446" width="3" height="2" fill="#c0c0c0"/>
<rect x="576" y="444" width="3" height="4" fill="#c0c0c0"/>
<rect x="580" y="442" width="3" height="6" fill="#c0c0c0"/>
<rect x="584" y="444" width="3" height="4" fill="#c0c0c0"/>
<rect x="588" y="442" width="3" height="6" fill="#c0c0c0"/>
<rect x="592" y="442" width="3" height="6" fill="#c0c0c0"/>
<rect x="596" y="441" width="3" height="7" fill="#c0c0c0"/>
<rect x="600" y="440" width="3" height="8" fill="#c0c0c0"/>
<rect x="604" y="438" width="3" height="10" fill="#c0c0c0"/>
<rect x="608" y="436" width="3" height="12" fill="#c0c0c0"/>
<rect x="612" y="433" width="3" height="15" fill="#c0c0c0"/>
<rect x="616" y="430" width="3" height="18" fill="#c0c0c0"/>
<rect x="620" y="430" width="3" height="18" fill="#c0c0c0"/>
<rect x="624" y="432" width="3" height="16" fill="#c0c0c0"/>
<rect x="628" y="432" width="3" height="16" fill="#c0c0c0"/>
<rect x="632" y="431" width="3" height="17" fill="#c0c0c0"/>
<rect x="636" y="432" width="3" height="16" fill="#c0c0c0"/>
<rect x="640" y="434" width="3" height="14" fill="#c0c0c0"/>
<rect x="644" y="438" width="3" height="10" fill="#c0c0c0"/>
<rect x="648" y="441" width="3" height="7" fill="#c0c0c0"/>
<rect x="652" y="441" width="3" height="7" fill="#c0c0c0"/>
<rect x="656" y="438" width="3" height="10" fill="#c0c0c0"/>
<rect x="660" y="436" width="3" height="12" fill="#c0c0c0"/>
<rect x="664" y="434" width="3" height="14" fill="#c0c0c0"/>
<rect x="668" y="433" width="3" height="15" fill="#c0c0c0"/>
<rect x="672" y="431" width="3" height="17" fill="#c0c0c0"/>
<rect x="676" y="428" width="3" height="20" fill="#c0c0c0"/>
<rect x="680" y="426" width="3" height="22" fill="#c0c0c0"/>
<rect x="684" y="424" width="3" height="24" fill="#c0c0c0"/>
<rect x="688" y="423" width="3" height="25" fill="#c0c0c0"/>
<rect x="692" y="423" width="3" height="25" fill="#c0c0c0"/>
<rect x="696" y="423" width="3" height="25" fill="#c0c0c0"/>
<rect x="700" y="423" width="3" height="25" fill="#c0c0c0"/>
<rect x="704" y="424" width="3" height="24" fill="#c0c0c0"/>
<rect x="708" y="425" width="3" height="23" fill="#c0c0c0"/>
<rect x="712" y="426" width="3" height="22" fill="#c0c0c0"/>
<rect x="716" y="426" width="3" height="22" fill="#c0c0c0"/>
<rect x="720" y="424" width="3" height="24" fill="#c0c0c0"/>
<rect x="724" y="426" width="3" height="22" fill="#c0c0c0"/>
<rect x="728" y="428" width="3" height="20" fill="#c0c0c0"/>
<rect x="732" y="431" width="3" height="17" fill="#c0c0c0"/>
<rect x="736" y="433" width="3" height="15" fill="#c0c0c0"/>
<rect x="740" y="436" width="3" height="12" fill="#c0c0c0"/>
<rect x="744" y="438" width="3" height="10" fill="#c0c0c0"/>
<rect x="748" y="439" width="3" height="9" fill="#c0c0c0"/>
<rect x="752" y="441" width="3" height="7" fill="#c0c0c0"/>
<rect x="756" y="444" width="3" height="4" fill="#c0c0c0"/>
<rect x="760" y="445" width="3" height="3" fill="#c0c0c0"/>
<rect x="764" y="448" width="3" height="1" fill="#c0c0c0"/>
<rect x="768" y="448" width="3" height="1" fill="#c0c0c0"/>
<rect x="772" y="448" width="3" height="1" fill="#c0c0c0"/>
<rect x="776" y="448" width="3" height="3" fill="#c0c0c0"/>
<rect x="780" y="448" width="3" height="8" fill="#c0c0c0"/>
<rect x="784" y="448" width="3" height="11" fill="#c0c0c0"/>
<rect x="788" y="448" width="3" height="16" fill="#c0c0c0"/>
<rect x="792" y="448" width="3" height="20" fill="#c0c0c0"/>
<rect x="796" y="448" width="3" height="24" fill="#c0c0c0"/>
<rect x="800" y="448" width="3" height="26" fill="#c0c0c0"/>
<rect x="804" y="448" width="3" height="29" fill="#c0c0c0"/>
<rect x="808" y="448" width="3" height="32" fill="#c0c0c0"/>
<rect x="812" y="448" width="3" height="33" fill="#c0c0c0"/>
<rect x="816" y="448" width="3" height="33" fill="#c0c0c0"/>
<rect x="820" y="448" width="3" height="27" fill="#c0c0c0"/>
<rect x="824" y="448" width="3" height="27" fill="#c0c0c0"/>
<rect x="828" y="448" width="3" height="29" fill="#c0c0c0"/>
<rect x="832" y="448" width="3" height="30" fill="#c0c0c0"/>
<rect x="836" y="448" width="3" height="32" fill="#c0c0c0"/>
<rect x="840" y="448" width="3" height="35" fill="#c0c0c0"/>
<rect x="844" y="448" width="3" height="37" fill="#c0c0c0"/>
<rect x="848" y="448" width="3" height="39" fill="#c0c0c0"/>
<rect x="852" y="448" width="3" height="39" fill="#c0c0c0"/>
<rect x="856" y="448" width="3" height="38" fill="#c0c0c0"/>
<rect x="860" y="448" width="3" height="35" fill="#c0c0c0"/>
<rect x="864" y="448" width="3" height="34" fill="#c0c0c0"/>
<rect x="868" y="448" width="3" height="32" fill="#c0c0c0"/>
<rect x="872" y="448" width="3" height="28" fill="#c0c0c0"/>
<rect x="876" y="448" width="3" height="26" fill="#c0c0c0"/>
<rect x="880" y="448" width="3" height="22" fill="#c0c0c0"/>
<rect x="884" y="448" width="3" height="19" fill="#c0c0c0"/>
<rect x="888" y="448" width="3" height="15" fill="#c0c0c0"/>
<rect x="892" y="448" width="3" height="12" fill="#c0c0c0"/>
<rect x="896" y="448" width="3" height="10" fill="#c0c0c0"/>
<rect x="900" y="448" width="3" height="7" fill="#c0c0c0"/>
<rect x="904" y="448" width="3" height="4" fill="#c0c0c0"/>
<rect x="908" y="448" width="3" height="1" fill="#c0c0c0"/>
<rect x="912" y="445" width="3" height="3" fill="#c0c0c0"/>
<rect x="916" y="444" width="3" height="4" fill="#c0c0c0"/>
<rect x="920" y="440" width="3" height="8" fill="#c0c0c0"/>
<rect x="924" y="439" width="3" height="9" fill="#c0c0c0"/>
</g>
<path d="M706,424h19v1h-19zM703,425h3v1h-3zM725,425h4v1h-4zM700,426h3v1h-3zM729,426h4v1h-4zM695,427h5v1h-5zM733,427h3v1h-3zM691,428h4v1h-4zM736,428h4v1h-4zM689,429h2v1h-2zM740,429h3v1h-3zM179,430h22v1h-22zM687,430h2v1h-2zM743,430h4v1h-4zM173,431h6v1h-6zM201,431h4v1h-4zM685,431h2v1h-2zM747,431h4v1h-4zM169,432h4v1h-4zM205,432h4v1h-4zM635,432h14v1h-14zM683,432h2v1h-2zM751,432h2v1h-2zM166,433h3v1h-3zM209,433h2v1h-2zM630,433h5v1h-5zM649,433h4v1h-4zM680,433h3v1h-3zM753,433h3v1h-3zM163,434h3v1h-3zM211,434h2v1h-2zM627,434h3v1h-3zM653,434h4v1h-4zM678,434h2v1h-2zM756,434h2v1h-2zM161,435h2v1h-2zM213,435h2v1h-2zM625,435h2v1h-2zM657,435h3v1h-3zM673,435h5v1h-5zM758,435h2v1h-2zM158,436h3v1h-3zM215,436h2v1h-2zM622,436h3v1h-3zM660,436h13v1h-13zM760,436h1v1h-1zM155,437h3v1h-3zM217,437h2v1h-2zM620,437h2v1h-2zM761,437h2v1h-2zM153,438h2v1h-2zM219,438h2v1h-2zM617,438h3v1h-3zM763,438h2v1h-2zM150,439h3v1h-3zM221,439h2v1h-2zM615,439h2v1h-2zM765,439h2v1h-2zM147,440h3v1h-3zM223,440h2v1h-2zM611,440h4v1h-4zM767,440h2v1h-2zM145,441h2v1h-2zM225,441h2v1h-2zM606,441h5v1h-5zM769,441h3v1h-3zM14,442h18v1h-18zM142,442h3v1h-3zM227,442h2v1h-2zM409,442h16v1h-16zM598,442h8v1h-8zM772,442h2v1h-2zM12,443h2v1h-2zM32,443h5v1h-5zM139,443h3v1h-3zM229,443h2v1h-2zM404,443h5v1h-5zM425,443h6v1h-6zM592,443h6v1h-6zM774,443h2v1h-2zM10,444h2v1h-2zM37,444h4v1h-4zM137,444h2v1h-2zM231,444h2v1h-2zM401,444h3v1h-3zM431,444h4v1h-4zM588,444h4v1h-4zM776,444h2v1h-2zM8,445h2v1h-2zM41,445h4v1h-4zM134,445h3v1h-3zM233,445h1v1h-1zM399,445h2v1h-2zM435,445h40v1h-40zM585,445h3v1h-3zM778,445h2v1h-2zM6,446h2v1h-2zM45,446h4v1h-4zM131,446h3v1h-3zM234,446h2v1h-2zM396,446h3v1h-3zM475,446h6v1h-6zM578,446h7v1h-7zM780,446h2v1h-2zM5,447h1v1h-1zM49,447h2v1h-2zM129,447h2v1h-2zM236,447h2v1h-2zM393,447h3v1h-3zM481,447h3v1h-3zM572,447h6v1h-6zM782,447h2v1h-2zM51,448h3v1h-3zM125,448h4v1h-4zM238,448h1v1h-1zM391,448h2v1h-2zM484,448h4v1h-4zM568,448h4v1h-4zM784,448h1v1h-1zM54,449h3v1h-3zM121,449h4v1h-4zM239,449h2v1h-2zM388,449h3v1h-3zM488,449h3v1h-3zM565,449h3v1h-3zM785,449h2v1h-2zM925,449h1v1h-1zM57,450h2v1h-2zM117,450h4v1h-4zM241,450h2v1h-2zM385,450h3v1h-3zM491,450h2v1h-2zM561,450h4v1h-4zM787,450h2v1h-2zM923,450h2v1h-2zM59,451h3v1h-3zM113,451h4v1h-4zM243,451h2v1h-2zM383,451h2v1h-2zM493,451h3v1h-3zM556,451h5v1h-5zM789,451h1v1h-1zM921,451h2v1h-2zM62,452h3v1h-3zM109,452h4v1h-4zM245,452h2v1h-2zM380,452h3v1h-3zM496,452h2v1h-2zM552,452h4v1h-4zM790,452h2v1h-2zM919,452h2v1h-2zM65,453h4v1h-4zM105,453h4v1h-4zM247,453h2v1h-2zM377,453h3v1h-3zM498,453h3v1h-3zM548,453h4v1h-4zM792,453h1v1h-1zM918,453h1v1h-1zM69,454h6v1h-6zM99,454h6v1h-6zM249,454h3v1h-3zM375,454h2v1h-2zM501,454h2v1h-2zM545,454h3v1h-3zM793,454h2v1h-2zM917,454h1v1h-1zM75,455h8v1h-8zM91,455h8v1h-8zM252,455h2v1h-2zM372,455h3v1h-3zM503,455h3v1h-3zM541,455h4v1h-4zM795,455h2v1h-2zM915,455h2v1h-2zM83,456h8v1h-8zM254,456h2v1h-2zM369,456h3v1h-3zM506,456h2v1h-2zM536,456h5v1h-5zM797,456h1v1h-1zM914,456h1v1h-1zM256,457h2v1h-2zM367,457h2v1h-2zM508,457h3v1h-3zM532,457h4v1h-4zM798,457h1v1h-1zM913,457h1v1h-1zM258,458h2v1h-2zM364,458h3v1h-3zM511,458h3v1h-3zM529,458h3v1h-3zM799,458h2v1h-2zM912,458h1v1h-1zM260,459h3v1h-3zM361,459h3v1h-3zM514,459h4v1h-4zM527,459h2v1h-2zM801,459h1v1h-1zM910,459h2v1h-2zM263,460h4v1h-4zM359,460h2v1h-2zM518,460h9v1h-9zM802,460h1v1h-1zM909,460h1v1h-1zM267,461h4v1h-4zM355,461h4v1h-4zM803,461h2v1h-2zM908,461h1v1h-1zM271,462h2v1h-2zM351,462h4v1h-4zM805,462h1v1h-1zM907,462h1v1h-1zM273,463h3v1h-3zM348,463h3v1h-3zM806,463h1v1h-1zM905,463h2v1h-2zM276,464h3v1h-3zM345,464h3v1h-3zM807,464h2v1h-2zM904,464h1v1h-1zM279,465h4v1h-4zM343,465h2v1h-2zM809,465h1v1h-1zM903,465h1v1h-1zM283,466h4v1h-4zM340,466h3v1h-3zM810,466h1v1h-1zM901,466h2v1h-2zM287,467h4v1h-4zM338,467h2v1h-2zM811,467h2v1h-2zM900,467h1v1h-1zM291,468h4v1h-4zM336,468h2v1h-2zM813,468h1v1h-1zM899,468h1v1h-1zM295,469h2v1h-2zM334,469h2v1h-2zM814,469h1v1h-1zM897,469h2v1h-2zM297,470h3v1h-3zM332,470h2v1h-2zM815,470h1v1h-1zM896,470h1v1h-1zM300,471h3v1h-3zM329,471h3v1h-3zM816,471h2v1h-2zM894,471h2v1h-2zM303,472h4v1h-4zM327,472h2v1h-2zM818,472h1v1h-1zM893,472h1v1h-1zM307,473h6v1h-6zM321,473h6v1h-6zM819,473h2v1h-2zM892,473h1v1h-1zM313,474h8v1h-8zM821,474h4v1h-4zM890,474h2v1h-2zM825,475h4v1h-4zM888,475h2v1h-2zM829,476h4v1h-4zM886,476h2v1h-2zM833,477h6v1h-6zM884,477h2v1h-2zM839,478h6v1h-6zM882,478h2v1h-2zM845,479h4v1h-4zM880,479h2v1h-2zM849,480h4v1h-4zM878,480h2v1h-2zM853,481h4v1h-4zM874,481h4v1h-4zM857,482h7v1h-7zM871,482h3v1h-3zM864,483h7v1h-7z" fill="#ff0000" shape-rendering="crispEdges"/>
<g shape-rendering="crispEdges">
<line x1="5" y1="515.5" x2="1167" y2="515.5" stroke="#c0c0c0" stroke-width="1" stroke-dasharray="3 3"/>
<line x1="5" y1="544.5" x2="1167" y2="544.5" stroke="#c0c0c0" stroke-width="1" stroke-dasharray="3 3"/>
</g>
<path d="M22,529h1v2h-1zM23,531h1v2h-1zM31,532h1v2h-1zM54,537h1v2h-1zM55,535h1v2h-1zM56,533h1v2h-1zM57,531h1v2h-1zM75,537h1v2h-1zM79,537h1v2h-1zM115,526h1v2h-1zM144,516h1v2h-1zM150,513h1v2h-1zM151,515h1v2h-1zM152,517h1v2h-1zM153,519h1v2h-1zM189,518h1v2h-1zM190,520h1v3h-1zM191,523h1v2h-1zM192,525h1v3h-1zM193,528h1v2h-1zM198,527h1v2h-1zM200,530h1v2h-1zM226,539h1v2h-1zM227,537h1v2h-1zM308,545h1v2h-1zM310,542h1v2h-1zM311,540h1v2h-1zM312,538h1v2h-1zM313,536h1v2h-1zM338,534h1v2h-1zM340,531h1v2h-1zM362,529h1v2h-1zM365,525h1v2h-1zM401,521h1v2h-1zM402,523h1v2h-1zM403,525h1v3h-1zM404,528h1v2h-1zM405,530h1v2h-1zM414,528h1v2h-1zM415,530h1v2h-1zM416,532h1v2h-1zM434,528h1v2h-1zM435,526h1v2h-1zM436,524h1v2h-1zM437,522h1v2h-1zM442,523h1v2h-1zM443,525h1v2h-1zM444,527h1v2h-1zM445,529h1v2h-1zM485,538h1v2h-1zM488,542h1v2h-1zM498,542h1v2h-1zM499,540h1v2h-1zM500,538h1v2h-1zM501,536h1v2h-1zM503,533h1v2h-1zM515,532h1v2h-1zM582,523h1v2h-1zM583,525h1v2h-1zM584,527h1v2h-1zM585,529h1v2h-1zM586,528h1v2h-1zM588,525h1v2h-1zM595,525h1v2h-1zM619,516h1v2h-1zM620,518h1v2h-1zM621,520h1v2h-1zM622,522h1v2h-1zM624,525h1v2h-1zM634,522h1v2h-1zM636,525h1v2h-1zM642,528h1v2h-1zM644,531h1v2h-1zM650,532h1v2h-1zM651,530h1v2h-1zM652,528h1v2h-1zM655,524h1v2h-1zM715,518h1v2h-1zM721,515h1v2h-1zM722,517h1v2h-1zM723,519h1v2h-1zM724,521h1v2h-1zM725,523h1v2h-1zM774,529h1v2h-1zM776,532h1v2h-1zM778,535h1v2h-1zM779,537h1v2h-1zM780,539h1v2h-1zM815,546h1v2h-1zM817,543h1v2h-1zM818,539h1v4h-1zM819,536h1v3h-1zM820,532h1v4h-1zM821,530h1v2h-1zM822,531h1v2h-1zM823,533h1v2h-1zM824,535h1v2h-1zM871,534h1v2h-1zM918,523h1v2h-1zM920,520h1v2h-1zM923,521h1v2h-1zM149,512h1v1h-1zM147,513h2v1h-2zM146,514h1v1h-1zM145,515h1v1h-1zM177,515h2v1h-2zM615,515h4v1h-4zM684,515h2v1h-2zM719,515h2v1h-2zM168,516h2v1h-2zM175,516h2v1h-2zM179,516h3v1h-3zM612,516h3v1h-3zM682,516h2v1h-2zM686,516h2v1h-2zM717,516h2v1h-2zM135,517h4v1h-4zM165,517h3v1h-3zM170,517h2v1h-2zM174,517h1v1h-1zM182,517h4v1h-4zM610,517h2v1h-2zM676,517h6v1h-6zM688,517h4v1h-4zM716,517h1v1h-1zM130,518h5v1h-5zM139,518h1v1h-1zM143,518h1v1h-1zM162,518h3v1h-3zM172,518h2v1h-2zM186,518h3v1h-3zM609,518h1v1h-1zM674,518h2v1h-2zM692,518h8v1h-8zM127,519h3v1h-3zM140,519h1v1h-1zM142,519h1v1h-1zM160,519h2v1h-2zM608,519h1v1h-1zM673,519h1v1h-1zM700,519h3v1h-3zM921,519h1v1h-1zM126,520h1v1h-1zM141,520h1v1h-1zM154,520h6v1h-6zM606,520h2v1h-2zM672,520h1v1h-1zM703,520h8v1h-8zM714,520h1v1h-1zM922,520h1v1h-1zM125,521h1v1h-1zM396,521h5v1h-5zM604,521h2v1h-2zM633,521h1v1h-1zM659,521h9v1h-9zM670,521h2v1h-2zM711,521h3v1h-3zM124,522h1v1h-1zM388,522h3v1h-3zM394,522h2v1h-2zM438,522h4v1h-4zM577,522h5v1h-5zM602,522h2v1h-2zM631,522h2v1h-2zM657,522h2v1h-2zM668,522h2v1h-2zM919,522h1v1h-1zM123,523h1v1h-1zM386,523h2v1h-2zM391,523h3v1h-3zM576,523h1v1h-1zM597,523h5v1h-5zM630,523h1v1h-1zM656,523h1v1h-1zM908,523h6v1h-6zM924,523h1v1h-1zM117,524h2v1h-2zM122,524h1v1h-1zM366,524h20v1h-20zM575,524h1v1h-1zM589,524h1v1h-1zM596,524h1v1h-1zM623,524h1v1h-1zM629,524h1v1h-1zM635,524h1v1h-1zM906,524h2v1h-2zM914,524h2v1h-2zM116,525h1v1h-1zM119,525h3v1h-3zM557,525h2v1h-2zM574,525h1v1h-1zM590,525h1v1h-1zM627,525h2v1h-2zM726,525h2v1h-2zM901,525h5v1h-5zM916,525h2v1h-2zM105,526h5v1h-5zM197,526h1v1h-1zM410,526h2v1h-2zM533,526h3v1h-3zM556,526h1v1h-1zM559,526h9v1h-9zM571,526h3v1h-3zM591,526h1v1h-1zM626,526h1v1h-1zM654,526h1v1h-1zM728,526h2v1h-2zM900,526h1v1h-1zM103,527h2v1h-2zM110,527h1v1h-1zM195,527h2v1h-2zM364,527h1v1h-1zM409,527h1v1h-1zM412,527h2v1h-2zM531,527h2v1h-2zM536,527h2v1h-2zM555,527h1v1h-1zM568,527h3v1h-3zM587,527h1v1h-1zM592,527h1v1h-1zM594,527h1v1h-1zM625,527h1v1h-1zM637,527h5v1h-5zM653,527h1v1h-1zM730,527h3v1h-3zM899,527h1v1h-1zM5,528h17v1h-17zM101,528h2v1h-2zM111,528h2v1h-2zM114,528h1v1h-1zM194,528h1v1h-1zM363,528h1v1h-1zM408,528h1v1h-1zM528,528h3v1h-3zM538,528h1v1h-1zM554,528h1v1h-1zM593,528h1v1h-1zM733,528h3v1h-3zM745,528h5v1h-5zM773,528h1v1h-1zM887,528h4v1h-4zM898,528h1v1h-1zM89,529h12v1h-12zM113,529h1v1h-1zM199,529h1v1h-1zM407,529h1v1h-1zM447,529h4v1h-4zM461,529h5v1h-5zM526,529h2v1h-2zM539,529h1v1h-1zM544,529h3v1h-3zM551,529h3v1h-3zM736,529h2v1h-2zM744,529h1v1h-1zM750,529h1v1h-1zM772,529h1v1h-1zM884,529h3v1h-3zM891,529h7v1h-7zM29,530h1v1h-1zM86,530h3v1h-3zM341,530h5v1h-5zM406,530h1v1h-1zM432,530h2v1h-2zM446,530h1v1h-1zM451,530h3v1h-3zM459,530h2v1h-2zM466,530h1v1h-1zM512,530h2v1h-2zM525,530h1v1h-1zM540,530h1v1h-1zM542,530h2v1h-2zM547,530h4v1h-4zM643,530h1v1h-1zM738,530h1v1h-1zM743,530h1v1h-1zM751,530h1v1h-1zM771,530h1v1h-1zM882,530h2v1h-2zM27,531h2v1h-2zM30,531h1v1h-1zM85,531h1v1h-1zM211,531h2v1h-2zM324,531h4v1h-4zM346,531h2v1h-2zM361,531h1v1h-1zM422,531h2v1h-2zM431,531h1v1h-1zM454,531h2v1h-2zM458,531h1v1h-1zM467,531h2v1h-2zM505,531h2v1h-2zM510,531h2v1h-2zM514,531h1v1h-1zM523,531h2v1h-2zM541,531h1v1h-1zM739,531h2v1h-2zM742,531h1v1h-1zM752,531h1v1h-1zM770,531h1v1h-1zM775,531h1v1h-1zM880,531h2v1h-2zM25,532h2v1h-2zM58,532h1v1h-1zM67,532h2v1h-2zM84,532h1v1h-1zM201,532h3v1h-3zM208,532h3v1h-3zM213,532h1v1h-1zM317,532h2v1h-2zM322,532h2v1h-2zM328,532h3v1h-3zM348,532h2v1h-2zM360,532h1v1h-1zM420,532h2v1h-2zM424,532h7v1h-7zM456,532h2v1h-2zM469,532h1v1h-1zM471,532h2v1h-2zM504,532h1v1h-1zM507,532h3v1h-3zM522,532h1v1h-1zM741,532h1v1h-1zM753,532h2v1h-2zM769,532h1v1h-1zM873,532h2v1h-2zM878,532h2v1h-2zM24,533h1v1h-1zM59,533h1v1h-1zM65,533h2v1h-2zM69,533h2v1h-2zM83,533h1v1h-1zM204,533h4v1h-4zM214,533h1v1h-1zM316,533h1v1h-1zM319,533h3v1h-3zM331,533h2v1h-2zM339,533h1v1h-1zM350,533h2v1h-2zM359,533h1v1h-1zM418,533h2v1h-2zM470,533h1v1h-1zM473,533h2v1h-2zM520,533h2v1h-2zM645,533h2v1h-2zM755,533h7v1h-7zM768,533h1v1h-1zM872,533h1v1h-1zM875,533h3v1h-3zM32,534h2v1h-2zM60,534h1v1h-1zM63,534h2v1h-2zM71,534h2v1h-2zM82,534h1v1h-1zM215,534h2v1h-2zM315,534h1v1h-1zM333,534h2v1h-2zM352,534h4v1h-4zM358,534h1v1h-1zM417,534h1v1h-1zM475,534h2v1h-2zM479,534h2v1h-2zM516,534h1v1h-1zM518,534h2v1h-2zM647,534h3v1h-3zM762,534h1v1h-1zM767,534h1v1h-1zM777,534h1v1h-1zM865,534h1v1h-1zM34,535h2v1h-2zM61,535h2v1h-2zM73,535h1v1h-1zM81,535h1v1h-1zM217,535h1v1h-1zM232,535h6v1h-6zM314,535h1v1h-1zM335,535h2v1h-2zM356,535h2v1h-2zM477,535h2v1h-2zM481,535h1v1h-1zM502,535h1v1h-1zM517,535h1v1h-1zM763,535h2v1h-2zM766,535h1v1h-1zM864,535h1v1h-1zM866,535h1v1h-1zM36,536h5v1h-5zM74,536h1v1h-1zM80,536h1v1h-1zM218,536h1v1h-1zM228,536h4v1h-4zM238,536h1v1h-1zM337,536h1v1h-1zM482,536h2v1h-2zM765,536h1v1h-1zM863,536h1v1h-1zM867,536h2v1h-2zM870,536h1v1h-1zM41,537h4v1h-4zM219,537h2v1h-2zM239,537h2v1h-2zM484,537h1v1h-1zM825,537h2v1h-2zM861,537h2v1h-2zM869,537h1v1h-1zM45,538h2v1h-2zM221,538h1v1h-1zM241,538h1v1h-1zM827,538h3v1h-3zM859,538h2v1h-2zM47,539h2v1h-2zM51,539h3v1h-3zM76,539h1v1h-1zM78,539h1v1h-1zM222,539h1v1h-1zM242,539h1v1h-1zM248,539h1v1h-1zM830,539h2v1h-2zM857,539h2v1h-2zM49,540h2v1h-2zM77,540h1v1h-1zM223,540h2v1h-2zM243,540h2v1h-2zM246,540h2v1h-2zM249,540h2v1h-2zM486,540h1v1h-1zM832,540h2v1h-2zM855,540h2v1h-2zM225,541h1v1h-1zM245,541h1v1h-1zM251,541h2v1h-2zM487,541h1v1h-1zM781,541h5v1h-5zM834,541h2v1h-2zM854,541h1v1h-1zM253,542h3v1h-3zM786,542h1v1h-1zM836,542h2v1h-2zM853,542h1v1h-1zM256,543h11v1h-11zM787,543h2v1h-2zM838,543h4v1h-4zM852,543h1v1h-1zM267,544h3v1h-3zM309,544h1v1h-1zM489,544h2v1h-2zM497,544h1v1h-1zM789,544h2v1h-2zM842,544h4v1h-4zM851,544h1v1h-1zM270,545h2v1h-2zM282,545h7v1h-7zM491,545h2v1h-2zM495,545h2v1h-2zM791,545h4v1h-4zM816,545h1v1h-1zM846,545h2v1h-2zM850,545h1v1h-1zM272,546h2v1h-2zM281,546h1v1h-1zM289,546h4v1h-4zM493,546h2v1h-2zM795,546h10v1h-10zM848,546h2v1h-2zM274,547h1v1h-1zM279,547h2v1h-2zM293,547h3v1h-3zM307,547h1v1h-1zM805,547h3v1h-3zM275,548h2v1h-2zM278,548h1v1h-1zM296,548h1v1h-1zM306,548h1v1h-1zM808,548h3v1h-3zM814,548h1v1h-1zM277,549h1v1h-1zM297,549h1v1h-1zM305,549h1v1h-1zM811,549h3v1h-3zM298,550h2v1h-2zM303,550h2v1h-2zM300,551h1v1h-1zM302,551h1v1h-1zM301,552h1v1h-1z" fill="#1e90ff" shape-rendering="crispEdges"/>
<g shape-rendering="crispEdges">
<rect x="1168" y="50" width="2" height="1" fill="#000"/>
<rect x="1168" y="83" width="2" height="1" fill="#000"/>
<rect x="1168" y="116" width="2" height="1" fill="#000"/>
<rect x="1168" y="149" width="2" height="1" fill="#000"/>
<rect x="1168" y="182" width="2" height="1" fill="#000"/>
<rect x="1168" y="215" width="2" height="1" fill="#000"/>
<rect x="1168" y="248" width="2" height="1" fill="#000"/>
<rect x="1168" y="281" width="2" height="1" fill="#000"/>
<rect x="1168" y="314" width="2" height="1" fill="#000"/>
<rect x="1168" y="347" width="2" height="1" fill="#000"/>
<rect x="1168" y="380" width="2" height="1" fill="#000"/>
<rect x="1168" y="413" width="2" height="1" fill="#000"/>
<rect x="1168" y="420" width="1" height="1" fill="#000"/>
<rect x="1168" y="448" width="1" height="1" fill="#000"/>
<rect x="1168" y="489" width="1" height="1" fill="#000"/>
<rect x="1168" y="494" width="1" height="1" fill="#000"/>
<rect x="1168" y="566" width="1" height="1" fill="#000"/>
<rect x="5" y="567" width="1" height="3" fill="#000"/>
<rect x="69" y="567" width="1" height="3" fill="#000"/>
<rect x="133" y="567" width="1" height="3" fill="#000"/>
<rect x="197" y="567" width="1" height="3" fill="#000"/>
<rect x="261" y="567" width="1" height="3" fill="#000"/>
<rect x="325" y="567" width="1" height="3" fill="#000"/>
<rect x="389" y="567" width="1" height="3" fill="#000"/>
<rect x="453" y="567" width="1" height="3" fill="#000"/>
<rect x="517" y="567" width="1" height="3" fill="#000"/>
<rect x="581" y="567" width="1" height="3" fill="#000"/>
<rect x="645" y="567" width="1" height="3" fill="#000"/>
<rect x="709" y="567" width="1" height="3" fill="#000"/>
<rect x="773" y="567" width="1" height="3" fill="#000"/>
<rect x="837" y="567" width="1" height="3" fill="#000"/>
<rect x="901" y="567" width="1" height="3" fill="#000"/>
</g>
<text x="1172.6" y="54" font-size="10" fill="#000" textLength="34.5" lengthAdjust="spacingAndGlyphs">0.76470</text>
<text x="1172.6" y="87" font-size="10" fill="#000" textLength="34.5" lengthAdjust="spacingAndGlyphs">0.75710</text>
<text x="1172.6" y="120" font-size="10" fill="#000" textLength="34.5" lengthAdjust="spacingAndGlyphs">0.74950</text>
<text x="1172.6" y="153" font-size="10" fill="#000" textLength="34.5" lengthAdjust="spacingAndGlyphs">0.74210</text>
<text x="1172.6" y="186" font-size="10" fill="#000" textLength="34.5" lengthAdjust="spacingAndGlyphs">0.73450</text>
<text x="1172.6" y="219" font-size="10" fill="#000" textLength="34.5" lengthAdjust="spacingAndGlyphs">0.72690</text>
<text x="1172.6" y="252" font-size="10" fill="#000" textLength="34.5" lengthAdjust="spacingAndGlyphs">0.71930</text>
<text x="1172.6" y="285" font-size="10" fill="#000" textLength="33.8" lengthAdjust="spacingAndGlyphs">0.71170</text>
<text x="1172.6" y="318" font-size="10" fill="#000" textLength="34.5" lengthAdjust="spacingAndGlyphs">0.70410</text>
<text x="1172.6" y="351" font-size="10" fill="#000" textLength="34.5" lengthAdjust="spacingAndGlyphs">0.69650</text>
<text x="1172.6" y="384" font-size="10" fill="#000" textLength="34.5" lengthAdjust="spacingAndGlyphs">0.68890</text>
<text x="1172.6" y="417" font-size="10" fill="#000" textLength="34.5" lengthAdjust="spacingAndGlyphs">0.68130</text>
<text x="1171.6" y="429.1" font-size="10" fill="#000" textLength="38.4" lengthAdjust="spacingAndGlyphs">0.008197</text>
<text x="1171.6" y="451.9" font-size="10" fill="#000" textLength="18.5" lengthAdjust="spacingAndGlyphs">0.00</text>
<text x="1171.8" y="487.2" font-size="10" fill="#000" textLength="37.5" lengthAdjust="spacingAndGlyphs">-0.01212</text>
<text x="1170.9" y="503" font-size="10" fill="#000" textLength="15.8" lengthAdjust="spacingAndGlyphs">100</text>
<text x="1170.6" y="519.2" font-size="10" fill="#000" textLength="10.6" lengthAdjust="spacingAndGlyphs">70</text>
<text x="1170.6" y="547.9" font-size="10" fill="#000" textLength="10.6" lengthAdjust="spacingAndGlyphs">30</text>
<text x="1171.1" y="562.9" font-size="10" fill="#000" textLength="5.3" lengthAdjust="spacingAndGlyphs">0</text>
<g shape-rendering="crispEdges">
<rect x="1169" y="86" width="37" height="11" fill="#ff0000"/>
<rect x="1169" y="152" width="37" height="11" fill="#ff0000"/>
<rect x="1169" y="217" width="37" height="11" fill="#00ff00"/>
<rect x="1169" y="282" width="37" height="11" fill="#0000dc"/>
<rect x="1169" y="344" width="37" height="11" fill="#0000dc"/>
<rect x="1169" y="234" width="37" height="11" fill="#000"/>
</g>
<text x="1172.6" y="95" font-size="10" fill="#fff" textLength="34.5" lengthAdjust="spacingAndGlyphs">0.75512</text>
<text x="1172.6" y="161" font-size="10" fill="#fff" textLength="34.5" lengthAdjust="spacingAndGlyphs">0.74002</text>
<text x="1172.6" y="226" font-size="10" fill="#fff" textLength="34.5" lengthAdjust="spacingAndGlyphs">0.72504</text>
<text x="1172.6" y="291" font-size="10" fill="#fff" textLength="34.5" lengthAdjust="spacingAndGlyphs">0.71013</text>
<text x="1172.6" y="353" font-size="10" fill="#fff" textLength="34.5" lengthAdjust="spacingAndGlyphs">0.69582</text>
<text x="1172.6" y="243" font-size="10" fill="#fff" textLength="34.5" lengthAdjust="spacingAndGlyphs">0.72127</text>
<text x="4.1" y="578.8" font-size="10" fill="#000" textLength="47.2" lengthAdjust="spacingAndGlyphs">8 Sep 2021</text>
<text x="68.1" y="578.8" font-size="10" fill="#000" textLength="52.3" lengthAdjust="spacingAndGlyphs">27 Sep 2021</text>
<text x="132.1" y="578.8" font-size="10" fill="#000" textLength="50.2" lengthAdjust="spacingAndGlyphs">15 Oct 2021</text>
<text x="196.1" y="578.8" font-size="10" fill="#000" textLength="47.2" lengthAdjust="spacingAndGlyphs">3 Nov 2021</text>
<text x="260.1" y="578.8" font-size="10" fill="#000" textLength="52.3" lengthAdjust="spacingAndGlyphs">22 Nov 2021</text>
<text x="324.1" y="578.8" font-size="10" fill="#000" textLength="52.3" lengthAdjust="spacingAndGlyphs">10 Dec 2021</text>
<text x="388.1" y="578.8" font-size="10" fill="#000" textLength="52.3" lengthAdjust="spacingAndGlyphs">29 Dec 2021</text>
<text x="452.1" y="578.8" font-size="10" fill="#000" textLength="50.8" lengthAdjust="spacingAndGlyphs">17 Jan 2022</text>
<text x="516.1" y="578.8" font-size="10" fill="#000" textLength="46.6" lengthAdjust="spacingAndGlyphs">4 Feb 2022</text>
<text x="580.1" y="578.8" font-size="10" fill="#000" textLength="51.8" lengthAdjust="spacingAndGlyphs">23 Feb 2022</text>
<text x="644.1" y="578.8" font-size="10" fill="#000" textLength="51.8" lengthAdjust="spacingAndGlyphs">14 Mar 2022</text>
<text x="708.1" y="578.8" font-size="10" fill="#000" textLength="44.6" lengthAdjust="spacingAndGlyphs">1 Apr 2022</text>
<text x="772.1" y="578.8" font-size="10" fill="#000" textLength="49.7" lengthAdjust="spacingAndGlyphs">20 Apr 2022</text>
<text x="836.1" y="578.8" font-size="10" fill="#000" textLength="48.2" lengthAdjust="spacingAndGlyphs">9 May 2022</text>
<text x="900.1" y="578.8" font-size="10" fill="#000" textLength="53.3" lengthAdjust="spacingAndGlyphs">27 May 2022</text>
<polygon points="7.8,36.3 15.2,36.3 11.5,31.9" fill="#000"/>
<text x="20.4" y="37" font-size="10" fill="#000" textLength="68.6" lengthAdjust="spacingAndGlyphs">AUDUSD-,Daily</text>
<text x="94.8" y="37" font-size="10" fill="#000" textLength="141.7" lengthAdjust="spacingAndGlyphs">0.72632 0.72818 0.72008 0.72127</text>
<text x="9.3" y="431" font-size="10" fill="#000" textLength="67.7" lengthAdjust="spacingAndGlyphs">MACD(12,26,9)</text>
<text x="78.1" y="431" font-size="10" fill="#000" textLength="38.8" lengthAdjust="spacingAndGlyphs">0.002561</text>
<text x="119.2" y="431" font-size="10" fill="#000" textLength="41.9" lengthAdjust="spacingAndGlyphs">-0.000273</text>
<text x="9.3" y="505" font-size="10" fill="#000" textLength="68.6" lengthAdjust="spacingAndGlyphs">RSI(14) 58.3197</text>
<g shape-rendering="crispEdges">
<rect x="6" y="43" width="223" height="61" fill="#ffffff"/>
<rect x="8" y="45" width="52" height="25" fill="#c00000"/>
<rect x="9" y="46" width="50" height="24" fill="url(#gSellTop)"/>
<rect x="8" y="69" width="109" height="33" fill="#b80505"/>
<rect x="9" y="69" width="107" height="32" fill="url(#gSellBot)"/>
<rect x="12" y="68" width="45" height="1" fill="#9c0000"/>
<rect x="12" y="69" width="45" height="1" fill="#ff7474"/>
<rect x="175" y="45" width="52" height="25" fill="#c00000"/>
<rect x="176" y="46" width="50" height="24" fill="url(#gSellTop)"/>
<rect x="119" y="69" width="108" height="33" fill="#b80505"/>
<rect x="120" y="69" width="106" height="32" fill="url(#gSellBot)"/>
<rect x="179" y="68" width="45" height="1" fill="#9c0000"/>
<rect x="179" y="69" width="45" height="1" fill="#ff7474"/>
<rect x="62" y="45" width="111" height="22" fill="#abadb3"/>
<rect x="63" y="46" width="109" height="20" fill="#ffffff"/>
<rect x="63" y="46" width="20" height="20" fill="url(#gBtn)"/>
<rect x="83" y="46" width="1" height="20" fill="#abadb3"/>
<rect x="152" y="46" width="20" height="20" fill="url(#gBtn)"/>
<rect x="151" y="46" width="1" height="20" fill="#abadb3"/>
</g>
<polygon points="69.5,54.5 75.5,54.5 72.5,57.5" fill="#4a60c4"/>
<polygon points="159,57.5 165,57.5 162,54.5" fill="#4a60c4"/>
<text x="19.9" y="61" font-size="12.7" fill="#fff" textLength="26.6" lengthAdjust="spacingAndGlyphs">SELL</text>
<text x="187.9" y="61" font-size="12.7" fill="#fff" textLength="24.8" lengthAdjust="spacingAndGlyphs">BUY</text>
<text x="148.3" y="60" font-size="12.8" fill="#000" text-anchor="end">2.00</text>
<text x="27.5" y="97" font-size="12" fill="#fff" textLength="25.6" lengthAdjust="spacingAndGlyphs" font-weight="bold">0.72</text>
<text x="137.5" y="97" font-size="12" fill="#fff" textLength="25.6" lengthAdjust="spacingAndGlyphs" font-weight="bold">0.72</text>
<text x="54.2" y="97" font-size="32.4" fill="#fff" textLength="38.2" lengthAdjust="spacingAndGlyphs">12</text>
<text x="165.3" y="97" font-size="32.4" fill="#fff" textLength="38.4" lengthAdjust="spacingAndGlyphs">14</text>
<text x="94.5" y="81" font-size="12.5" fill="#fff" textLength="7.6" lengthAdjust="spacingAndGlyphs" font-weight="bold">7</text>
<text x="205.5" y="81" font-size="12.5" fill="#fff" textLength="7.6" lengthAdjust="spacingAndGlyphs" font-weight="bold">8</text>
<g shape-rendering="crispEdges">
<rect x="0" y="587" width="1206" height="1" fill="#e3e3e3"/>
<rect x="0" y="588" width="1206" height="23" fill="#f0f0f0"/>
<rect x="0" y="588" width="1206" height="1" fill="#ffffff"/>
<rect x="115" y="588" width="106" height="19" fill="#ffffff"/>
<rect x="0" y="608" width="1206" height="1" fill="#f0f0f0"/>
<rect x="0" y="609" width="1206" height="1" fill="#ffffff"/>
<rect x="0" y="610" width="1206" height="1" fill="#f6f6f6"/>
<rect x="1" y="589" width="1" height="19" fill="#6b6b6b"/>
<rect x="2" y="589" width="113" height="1" fill="#000"/>
<rect x="114" y="589" width="1" height="19" fill="#000"/>
<rect x="114" y="607" width="108" height="1" fill="#000"/>
<rect x="221" y="589" width="1" height="19" fill="#000"/>
<rect x="221" y="589" width="985" height="1" fill="#000"/>
<rect x="330" y="592" width="1" height="14" fill="#636363"/>
<rect x="438" y="592" width="1" height="14" fill="#636363"/>
<rect x="550" y="592" width="1" height="14" fill="#636363"/>
<rect x="646" y="592" width="1" height="14" fill="#636363"/>
<rect x="738" y="592" width="1" height="14" fill="#636363"/>
<rect x="842" y="592" width="1" height="14" fill="#636363"/>
<rect x="918" y="592" width="1" height="14" fill="#636363"/>
<rect x="1010" y="592" width="1" height="14" fill="#636363"/>
<rect x="1090" y="592" width="1" height="14" fill="#636363"/>
<rect x="1170" y="592" width="1" height="14" fill="#636363"/>
</g>
<text x="16.8" y="604" font-size="12.4" fill="#6e6e6e" textLength="85.9" lengthAdjust="spacingAndGlyphs">EURUSD-,Daily</text>
<text x="123.6" y="604" font-size="12.4" fill="#000" textLength="87.2" lengthAdjust="spacingAndGlyphs">AUDUSD-,Daily</text>
<text x="233.4" y="604" font-size="12.4" fill="#6e6e6e" textLength="85.3" lengthAdjust="spacingAndGlyphs">USDCHF-,Daily</text>
<text x="340.5" y="604" font-size="12.4" fill="#6e6e6e" textLength="87.3" lengthAdjust="spacingAndGlyphs">USDCAD-,Daily</text>
<text x="449.6" y="604" font-size="12.4" fill="#6e6e6e" textLength="89.1" lengthAdjust="spacingAndGlyphs">USDCNH-,Daily</text>
<text x="560.0" y="604" font-size="12.4" fill="#6e6e6e" textLength="75.4" lengthAdjust="spacingAndGlyphs">XAUUSD-,H1</text>
<text x="656.6" y="604" font-size="12.4" fill="#6e6e6e" textLength="70.2" lengthAdjust="spacingAndGlyphs">UKOil-,Daily</text>
<text x="748.6" y="604" font-size="12.4" fill="#6e6e6e" textLength="83.2" lengthAdjust="spacingAndGlyphs">USOil-,Weekly</text>
<text x="851.4" y="604" font-size="12.4" fill="#6e6e6e" textLength="56.0" lengthAdjust="spacingAndGlyphs">HK50-,H1</text>
<text x="927.6" y="604" font-size="12.4" fill="#6e6e6e" textLength="71.4" lengthAdjust="spacingAndGlyphs">EURCHF-,H1</text>
<text x="1021.4" y="604" font-size="12.4" fill="#6e6e6e" textLength="57.5" lengthAdjust="spacingAndGlyphs">USOil-,H4</text>
<text x="1100.5" y="604" font-size="12.4" fill="#6e6e6e" textLength="58.0" lengthAdjust="spacingAndGlyphs">UKOil-,H4</text>
<polygon points="1186.3,594.7 1186.3,601.3 1182.8,598" fill="#000"/>
<polygon points="1202,594.8 1202,601.2 1205.3,598" fill="#9a9a9a"/>
</svg></body></html>
